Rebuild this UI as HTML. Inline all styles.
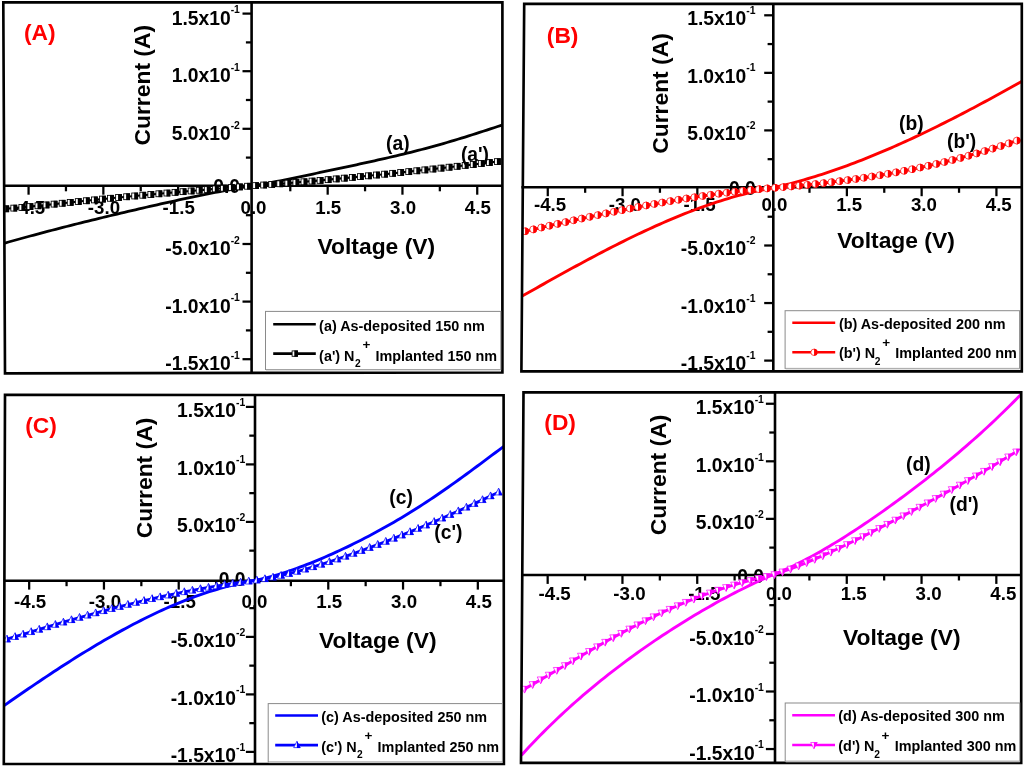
<!DOCTYPE html>
<html lang="en"><head><meta charset="utf-8"><title>I-V characteristics</title>
<style>html,body{margin:0;padding:0;background:#fff;}svg{display:block;font-family:"Liberation Sans", sans-serif;font-weight:bold;}</style></head><body>
<svg width="1024" height="767" viewBox="0 0 1024 767" role="img" aria-label="I-V characteristics of as-deposited and N2+ implanted films, four panels">
<rect x="0" y="0" width="1024" height="767" fill="#fff"/>
<defs><filter id="soft" x="0" y="0" width="1024" height="767" filterUnits="userSpaceOnUse" color-interpolation-filters="sRGB"><feGaussianBlur stdDeviation="0.6"/></filter></defs>
<g filter="url(#soft)">
<rect x="-5" y="-5" width="1034" height="777" fill="#fff"/>
<g id="panelA">
<text x="239.9" y="13.4" font-size="10.4" fill="#000" text-anchor="end">-1</text>
<text x="230.65" y="24.6" font-size="19.3" fill="#000" text-anchor="end">1.5x10</text>
<text x="239.9" y="71" font-size="10.4" fill="#000" text-anchor="end">-1</text>
<text x="230.65" y="82.2" font-size="19.3" fill="#000" text-anchor="end">1.0x10</text>
<text x="239.9" y="128.6" font-size="10.4" fill="#000" text-anchor="end">-2</text>
<text x="230.65" y="139.8" font-size="19.3" fill="#000" text-anchor="end">5.0x10</text>
<text x="240.1" y="193" font-size="19.3" fill="#000" text-anchor="end">0.0</text>
<text x="239.9" y="243.8" font-size="10.4" fill="#000" text-anchor="end">-2</text>
<text x="230.65" y="255" font-size="19.3" fill="#000" text-anchor="end">-5.0x10</text>
<text x="239.9" y="301.4" font-size="10.4" fill="#000" text-anchor="end">-1</text>
<text x="230.65" y="312.6" font-size="19.3" fill="#000" text-anchor="end">-1.0x10</text>
<text x="239.9" y="359" font-size="10.4" fill="#000" text-anchor="end">-1</text>
<text x="230.65" y="370.2" font-size="19.3" fill="#000" text-anchor="end">-1.5x10</text>
<text x="29.17" y="213.6" font-size="18.7" fill="#000" text-anchor="middle">-4.5</text>
<text x="103.95" y="213.6" font-size="18.7" fill="#000" text-anchor="middle">-3.0</text>
<text x="178.72" y="213.6" font-size="18.7" fill="#000" text-anchor="middle">-1.5</text>
<text x="253.5" y="213.6" font-size="18.7" fill="#000" text-anchor="middle">0.0</text>
<text x="328.28" y="213.6" font-size="18.7" fill="#000" text-anchor="middle">1.5</text>
<text x="403.05" y="213.6" font-size="18.7" fill="#000" text-anchor="middle">3.0</text>
<text x="477.83" y="213.6" font-size="18.7" fill="#000" text-anchor="middle">4.5</text>
<text x="376.3" y="254" font-size="22.85" fill="#000" text-anchor="middle">Voltage (V)</text>
<text transform="translate(150.4 85.2) rotate(-90)" font-size="22.85" text-anchor="middle">Current (A)</text>
<line x1="5" y1="185.8" x2="502.4" y2="185.8" stroke="#000" stroke-width="2.6" stroke-linecap="butt"/>
<line x1="251.6" y1="2.3" x2="251.6" y2="372.5" stroke="#000" stroke-width="2.6" stroke-linecap="butt"/>
<line x1="28.57" y1="185.8" x2="28.57" y2="194.7" stroke="#000" stroke-width="2.25" stroke-linecap="butt"/>
<line x1="65.96" y1="185.8" x2="65.96" y2="191.3" stroke="#000" stroke-width="2.25" stroke-linecap="butt"/>
<line x1="103.35" y1="185.8" x2="103.35" y2="194.7" stroke="#000" stroke-width="2.25" stroke-linecap="butt"/>
<line x1="140.74" y1="185.8" x2="140.74" y2="191.3" stroke="#000" stroke-width="2.25" stroke-linecap="butt"/>
<line x1="178.12" y1="185.8" x2="178.12" y2="194.7" stroke="#000" stroke-width="2.25" stroke-linecap="butt"/>
<line x1="215.51" y1="185.8" x2="215.51" y2="191.3" stroke="#000" stroke-width="2.25" stroke-linecap="butt"/>
<line x1="290.29" y1="185.8" x2="290.29" y2="191.3" stroke="#000" stroke-width="2.25" stroke-linecap="butt"/>
<line x1="327.68" y1="185.8" x2="327.68" y2="194.7" stroke="#000" stroke-width="2.25" stroke-linecap="butt"/>
<line x1="365.06" y1="185.8" x2="365.06" y2="191.3" stroke="#000" stroke-width="2.25" stroke-linecap="butt"/>
<line x1="402.45" y1="185.8" x2="402.45" y2="194.7" stroke="#000" stroke-width="2.25" stroke-linecap="butt"/>
<line x1="439.84" y1="185.8" x2="439.84" y2="191.3" stroke="#000" stroke-width="2.25" stroke-linecap="butt"/>
<line x1="477.23" y1="185.8" x2="477.23" y2="194.7" stroke="#000" stroke-width="2.25" stroke-linecap="butt"/>
<line x1="242.5" y1="359.2" x2="251.6" y2="359.2" stroke="#000" stroke-width="2.25" stroke-linecap="butt"/>
<line x1="245.9" y1="330.4" x2="251.6" y2="330.4" stroke="#000" stroke-width="2.25" stroke-linecap="butt"/>
<line x1="242.5" y1="301.6" x2="251.6" y2="301.6" stroke="#000" stroke-width="2.25" stroke-linecap="butt"/>
<line x1="245.9" y1="272.8" x2="251.6" y2="272.8" stroke="#000" stroke-width="2.25" stroke-linecap="butt"/>
<line x1="242.5" y1="244" x2="251.6" y2="244" stroke="#000" stroke-width="2.25" stroke-linecap="butt"/>
<line x1="245.9" y1="215.2" x2="251.6" y2="215.2" stroke="#000" stroke-width="2.25" stroke-linecap="butt"/>
<line x1="245.9" y1="157.6" x2="251.6" y2="157.6" stroke="#000" stroke-width="2.25" stroke-linecap="butt"/>
<line x1="242.5" y1="128.8" x2="251.6" y2="128.8" stroke="#000" stroke-width="2.25" stroke-linecap="butt"/>
<line x1="245.9" y1="100" x2="251.6" y2="100" stroke="#000" stroke-width="2.25" stroke-linecap="butt"/>
<line x1="242.5" y1="71.2" x2="251.6" y2="71.2" stroke="#000" stroke-width="2.25" stroke-linecap="butt"/>
<line x1="245.9" y1="42.4" x2="251.6" y2="42.4" stroke="#000" stroke-width="2.25" stroke-linecap="butt"/>
<line x1="242.5" y1="13.6" x2="251.6" y2="13.6" stroke="#000" stroke-width="2.25" stroke-linecap="butt"/>
<clipPath id="clipA"><polygon points="3.3,2.3 502.4,2.3 502.4,372.5 5,373.3"/></clipPath>
<g clip-path="url(#clipA)">
<path d="M1.3 244.08 L4.92 243.04 L8.55 242.02 L12.17 241 L15.79 239.99 L19.42 238.98 L23.04 237.99 L26.66 237 L30.28 236.01 L33.91 235.03 L37.53 234.06 L41.15 233.1 L44.78 232.14 L48.4 231.19 L52.02 230.24 L55.65 229.3 L59.27 228.36 L62.89 227.43 L66.51 226.51 L70.14 225.59 L73.76 224.67 L77.38 223.76 L81.01 222.85 L84.63 221.95 L88.25 221.06 L91.88 220.16 L95.5 219.28 L99.12 218.39 L102.74 217.51 L106.37 216.64 L109.99 215.76 L113.61 214.9 L117.24 214.03 L120.86 213.17 L124.48 212.32 L128.11 211.46 L131.73 210.61 L135.35 209.77 L138.97 208.93 L142.6 208.09 L146.22 207.26 L149.84 206.43 L153.47 205.61 L157.09 204.79 L160.71 203.97 L164.34 203.16 L167.96 202.36 L171.58 201.56 L175.21 200.76 L178.83 199.98 L182.45 199.19 L186.07 198.42 L189.7 197.65 L193.32 196.88 L196.94 196.13 L200.57 195.38 L204.19 194.64 L207.81 193.91 L211.44 193.19 L215.06 192.48 L218.68 191.78 L222.3 191.09 L225.93 190.41 L229.55 189.75 L233.17 189.09 L236.8 188.45 L240.42 187.83 L244.04 187.22 L247.67 186.63 L251.29 186.05 L254.91 185.47 L258.53 184.86 L262.16 184.22 L265.78 183.56 L269.4 182.89 L273.03 182.19 L276.65 181.49 L280.27 180.77 L283.9 180.04 L287.52 179.31 L291.14 178.57 L294.76 177.82 L298.39 177.06 L302.01 176.31 L305.63 175.55 L309.26 174.78 L312.88 174.02 L316.5 173.25 L320.13 172.49 L323.75 171.72 L327.37 170.95 L330.99 170.18 L334.62 169.41 L338.24 168.64 L341.86 167.87 L345.49 167.09 L349.11 166.32 L352.73 165.54 L356.36 164.76 L359.98 163.98 L363.6 163.19 L367.23 162.4 L370.85 161.6 L374.47 160.8 L378.09 159.99 L381.72 159.17 L385.34 158.34 L388.96 157.51 L392.59 156.67 L396.21 155.81 L399.83 154.95 L403.46 154.07 L407.08 153.19 L410.7 152.29 L414.32 151.37 L417.95 150.45 L421.57 149.51 L425.19 148.55 L428.82 147.58 L432.44 146.6 L436.06 145.59 L439.69 144.58 L443.31 143.55 L446.93 142.5 L450.55 141.44 L454.18 140.36 L457.8 139.27 L461.42 138.16 L465.05 137.04 L468.67 135.91 L472.29 134.76 L475.92 133.61 L479.54 132.44 L483.16 131.27 L486.78 130.09 L490.41 128.9 L494.03 127.71 L497.65 126.52 L501.28 125.33 L504.9 124.14" fill="none" stroke="#000000" stroke-width="2.8" stroke-linejoin="round"/>
<path d="M5.74 208.8 L13.8 208.11 L21.86 207.37 L29.92 206.59 L37.98 205.78 L46.04 204.96 L54.1 204.12 L62.16 203.27 L70.22 202.42 L78.28 201.58 L86.34 200.74 L94.4 199.91 L102.46 199.1 L110.52 198.3 L118.58 197.51 L126.64 196.73 L134.7 195.97 L142.76 195.23 L150.82 194.49 L158.88 193.77 L166.94 193.05 L175 192.35 L183.06 191.65 L191.12 190.96 L199.18 190.27 L207.24 189.59 L215.3 188.91 L223.36 188.24 L231.42 187.57 L239.48 186.9 L247.54 186.24 L255.6 185.61 L263.66 185.01 L271.72 184.4 L279.78 183.77 L287.84 183.13 L295.9 182.46 L303.96 181.78 L312.02 181.09 L320.08 180.38 L328.14 179.65 L336.2 178.91 L344.26 178.15 L352.32 177.39 L360.38 176.6 L368.44 175.81 L376.5 175 L384.56 174.18 L392.62 173.34 L400.68 172.5 L408.74 171.64 L416.8 170.78 L424.86 169.9 L432.92 169.01 L440.98 168.12 L449.04 167.21 L457.1 166.3 L465.16 165.38 L473.22 164.45 L481.28 163.51 L489.34 162.57 L497.4 161.62" fill="none" stroke="#000000" stroke-width="2.1" stroke-linejoin="round"/>
<rect x="2.79" y="205.85" width="5.9" height="5.9" fill="#fff" stroke="#000000" stroke-width="0.85"/>
<rect x="5.24" y="205.43" width="3.88" height="6.75" fill="#000000"/>
<rect x="10.85" y="205.16" width="5.9" height="5.9" fill="#fff" stroke="#000000" stroke-width="0.85"/>
<rect x="13.3" y="204.74" width="3.88" height="6.75" fill="#000000"/>
<rect x="18.91" y="204.42" width="5.9" height="5.9" fill="#fff" stroke="#000000" stroke-width="0.85"/>
<rect x="21.36" y="204" width="3.88" height="6.75" fill="#000000"/>
<rect x="26.97" y="203.64" width="5.9" height="5.9" fill="#fff" stroke="#000000" stroke-width="0.85"/>
<rect x="29.42" y="203.22" width="3.88" height="6.75" fill="#000000"/>
<rect x="35.03" y="202.83" width="5.9" height="5.9" fill="#fff" stroke="#000000" stroke-width="0.85"/>
<rect x="37.48" y="202.41" width="3.88" height="6.75" fill="#000000"/>
<rect x="43.09" y="202.01" width="5.9" height="5.9" fill="#fff" stroke="#000000" stroke-width="0.85"/>
<rect x="45.54" y="201.58" width="3.88" height="6.75" fill="#000000"/>
<rect x="51.15" y="201.17" width="5.9" height="5.9" fill="#fff" stroke="#000000" stroke-width="0.85"/>
<rect x="53.6" y="200.74" width="3.88" height="6.75" fill="#000000"/>
<rect x="59.21" y="200.32" width="5.9" height="5.9" fill="#fff" stroke="#000000" stroke-width="0.85"/>
<rect x="61.66" y="199.89" width="3.88" height="6.75" fill="#000000"/>
<rect x="67.27" y="199.47" width="5.9" height="5.9" fill="#fff" stroke="#000000" stroke-width="0.85"/>
<rect x="69.72" y="199.05" width="3.88" height="6.75" fill="#000000"/>
<rect x="75.33" y="198.63" width="5.9" height="5.9" fill="#fff" stroke="#000000" stroke-width="0.85"/>
<rect x="77.78" y="198.2" width="3.88" height="6.75" fill="#000000"/>
<rect x="83.39" y="197.79" width="5.9" height="5.9" fill="#fff" stroke="#000000" stroke-width="0.85"/>
<rect x="85.84" y="197.37" width="3.88" height="6.75" fill="#000000"/>
<rect x="91.45" y="196.96" width="5.9" height="5.9" fill="#fff" stroke="#000000" stroke-width="0.85"/>
<rect x="93.9" y="196.54" width="3.88" height="6.75" fill="#000000"/>
<rect x="99.51" y="196.15" width="5.9" height="5.9" fill="#fff" stroke="#000000" stroke-width="0.85"/>
<rect x="101.96" y="195.72" width="3.88" height="6.75" fill="#000000"/>
<rect x="107.57" y="195.35" width="5.9" height="5.9" fill="#fff" stroke="#000000" stroke-width="0.85"/>
<rect x="110.02" y="194.92" width="3.88" height="6.75" fill="#000000"/>
<rect x="115.63" y="194.56" width="5.9" height="5.9" fill="#fff" stroke="#000000" stroke-width="0.85"/>
<rect x="118.08" y="194.13" width="3.88" height="6.75" fill="#000000"/>
<rect x="123.69" y="193.78" width="5.9" height="5.9" fill="#fff" stroke="#000000" stroke-width="0.85"/>
<rect x="126.14" y="193.36" width="3.88" height="6.75" fill="#000000"/>
<rect x="131.75" y="193.02" width="5.9" height="5.9" fill="#fff" stroke="#000000" stroke-width="0.85"/>
<rect x="134.2" y="192.6" width="3.88" height="6.75" fill="#000000"/>
<rect x="139.81" y="192.28" width="5.9" height="5.9" fill="#fff" stroke="#000000" stroke-width="0.85"/>
<rect x="142.26" y="191.85" width="3.88" height="6.75" fill="#000000"/>
<rect x="147.87" y="191.54" width="5.9" height="5.9" fill="#fff" stroke="#000000" stroke-width="0.85"/>
<rect x="150.32" y="191.12" width="3.88" height="6.75" fill="#000000"/>
<rect x="155.93" y="190.82" width="5.9" height="5.9" fill="#fff" stroke="#000000" stroke-width="0.85"/>
<rect x="158.38" y="190.39" width="3.88" height="6.75" fill="#000000"/>
<rect x="163.99" y="190.1" width="5.9" height="5.9" fill="#fff" stroke="#000000" stroke-width="0.85"/>
<rect x="166.44" y="189.68" width="3.88" height="6.75" fill="#000000"/>
<rect x="172.05" y="189.4" width="5.9" height="5.9" fill="#fff" stroke="#000000" stroke-width="0.85"/>
<rect x="174.5" y="188.97" width="3.88" height="6.75" fill="#000000"/>
<rect x="180.11" y="188.7" width="5.9" height="5.9" fill="#fff" stroke="#000000" stroke-width="0.85"/>
<rect x="182.56" y="188.28" width="3.88" height="6.75" fill="#000000"/>
<rect x="188.17" y="188.01" width="5.9" height="5.9" fill="#fff" stroke="#000000" stroke-width="0.85"/>
<rect x="190.62" y="187.59" width="3.88" height="6.75" fill="#000000"/>
<rect x="196.23" y="187.32" width="5.9" height="5.9" fill="#fff" stroke="#000000" stroke-width="0.85"/>
<rect x="198.68" y="186.9" width="3.88" height="6.75" fill="#000000"/>
<rect x="204.29" y="186.64" width="5.9" height="5.9" fill="#fff" stroke="#000000" stroke-width="0.85"/>
<rect x="206.74" y="186.22" width="3.88" height="6.75" fill="#000000"/>
<rect x="212.35" y="185.96" width="5.9" height="5.9" fill="#fff" stroke="#000000" stroke-width="0.85"/>
<rect x="214.8" y="185.54" width="3.88" height="6.75" fill="#000000"/>
<rect x="220.41" y="185.29" width="5.9" height="5.9" fill="#fff" stroke="#000000" stroke-width="0.85"/>
<rect x="222.86" y="184.86" width="3.88" height="6.75" fill="#000000"/>
<rect x="228.47" y="184.62" width="5.9" height="5.9" fill="#fff" stroke="#000000" stroke-width="0.85"/>
<rect x="230.92" y="184.19" width="3.88" height="6.75" fill="#000000"/>
<rect x="236.53" y="183.95" width="5.9" height="5.9" fill="#fff" stroke="#000000" stroke-width="0.85"/>
<rect x="238.98" y="183.52" width="3.88" height="6.75" fill="#000000"/>
<rect x="244.59" y="183.29" width="5.9" height="5.9" fill="#fff" stroke="#000000" stroke-width="0.85"/>
<rect x="247.04" y="182.86" width="3.88" height="6.75" fill="#000000"/>
<rect x="252.65" y="182.66" width="5.9" height="5.9" fill="#fff" stroke="#000000" stroke-width="0.85"/>
<rect x="255.1" y="182.23" width="3.88" height="6.75" fill="#000000"/>
<rect x="260.71" y="182.06" width="5.9" height="5.9" fill="#fff" stroke="#000000" stroke-width="0.85"/>
<rect x="263.16" y="181.64" width="3.88" height="6.75" fill="#000000"/>
<rect x="268.77" y="181.45" width="5.9" height="5.9" fill="#fff" stroke="#000000" stroke-width="0.85"/>
<rect x="271.22" y="181.03" width="3.88" height="6.75" fill="#000000"/>
<rect x="276.83" y="180.82" width="5.9" height="5.9" fill="#fff" stroke="#000000" stroke-width="0.85"/>
<rect x="279.28" y="180.4" width="3.88" height="6.75" fill="#000000"/>
<rect x="284.89" y="180.18" width="5.9" height="5.9" fill="#fff" stroke="#000000" stroke-width="0.85"/>
<rect x="287.34" y="179.75" width="3.88" height="6.75" fill="#000000"/>
<rect x="292.95" y="179.51" width="5.9" height="5.9" fill="#fff" stroke="#000000" stroke-width="0.85"/>
<rect x="295.4" y="179.09" width="3.88" height="6.75" fill="#000000"/>
<rect x="301.01" y="178.83" width="5.9" height="5.9" fill="#fff" stroke="#000000" stroke-width="0.85"/>
<rect x="303.46" y="178.41" width="3.88" height="6.75" fill="#000000"/>
<rect x="309.07" y="178.14" width="5.9" height="5.9" fill="#fff" stroke="#000000" stroke-width="0.85"/>
<rect x="311.52" y="177.71" width="3.88" height="6.75" fill="#000000"/>
<rect x="317.13" y="177.43" width="5.9" height="5.9" fill="#fff" stroke="#000000" stroke-width="0.85"/>
<rect x="319.58" y="177" width="3.88" height="6.75" fill="#000000"/>
<rect x="325.19" y="176.7" width="5.9" height="5.9" fill="#fff" stroke="#000000" stroke-width="0.85"/>
<rect x="327.64" y="176.28" width="3.88" height="6.75" fill="#000000"/>
<rect x="333.25" y="175.96" width="5.9" height="5.9" fill="#fff" stroke="#000000" stroke-width="0.85"/>
<rect x="335.7" y="175.54" width="3.88" height="6.75" fill="#000000"/>
<rect x="341.31" y="175.2" width="5.9" height="5.9" fill="#fff" stroke="#000000" stroke-width="0.85"/>
<rect x="343.76" y="174.78" width="3.88" height="6.75" fill="#000000"/>
<rect x="349.37" y="174.44" width="5.9" height="5.9" fill="#fff" stroke="#000000" stroke-width="0.85"/>
<rect x="351.82" y="174.01" width="3.88" height="6.75" fill="#000000"/>
<rect x="357.43" y="173.65" width="5.9" height="5.9" fill="#fff" stroke="#000000" stroke-width="0.85"/>
<rect x="359.88" y="173.23" width="3.88" height="6.75" fill="#000000"/>
<rect x="365.49" y="172.86" width="5.9" height="5.9" fill="#fff" stroke="#000000" stroke-width="0.85"/>
<rect x="367.94" y="172.43" width="3.88" height="6.75" fill="#000000"/>
<rect x="373.55" y="172.05" width="5.9" height="5.9" fill="#fff" stroke="#000000" stroke-width="0.85"/>
<rect x="376" y="171.62" width="3.88" height="6.75" fill="#000000"/>
<rect x="381.61" y="171.23" width="5.9" height="5.9" fill="#fff" stroke="#000000" stroke-width="0.85"/>
<rect x="384.06" y="170.8" width="3.88" height="6.75" fill="#000000"/>
<rect x="389.67" y="170.39" width="5.9" height="5.9" fill="#fff" stroke="#000000" stroke-width="0.85"/>
<rect x="392.12" y="169.97" width="3.88" height="6.75" fill="#000000"/>
<rect x="397.73" y="169.55" width="5.9" height="5.9" fill="#fff" stroke="#000000" stroke-width="0.85"/>
<rect x="400.18" y="169.12" width="3.88" height="6.75" fill="#000000"/>
<rect x="405.79" y="168.69" width="5.9" height="5.9" fill="#fff" stroke="#000000" stroke-width="0.85"/>
<rect x="408.24" y="168.27" width="3.88" height="6.75" fill="#000000"/>
<rect x="413.85" y="167.83" width="5.9" height="5.9" fill="#fff" stroke="#000000" stroke-width="0.85"/>
<rect x="416.3" y="167.4" width="3.88" height="6.75" fill="#000000"/>
<rect x="421.91" y="166.95" width="5.9" height="5.9" fill="#fff" stroke="#000000" stroke-width="0.85"/>
<rect x="424.36" y="166.52" width="3.88" height="6.75" fill="#000000"/>
<rect x="429.97" y="166.06" width="5.9" height="5.9" fill="#fff" stroke="#000000" stroke-width="0.85"/>
<rect x="432.42" y="165.64" width="3.88" height="6.75" fill="#000000"/>
<rect x="438.03" y="165.17" width="5.9" height="5.9" fill="#fff" stroke="#000000" stroke-width="0.85"/>
<rect x="440.48" y="164.74" width="3.88" height="6.75" fill="#000000"/>
<rect x="446.09" y="164.26" width="5.9" height="5.9" fill="#fff" stroke="#000000" stroke-width="0.85"/>
<rect x="448.54" y="163.84" width="3.88" height="6.75" fill="#000000"/>
<rect x="454.15" y="163.35" width="5.9" height="5.9" fill="#fff" stroke="#000000" stroke-width="0.85"/>
<rect x="456.6" y="162.93" width="3.88" height="6.75" fill="#000000"/>
<rect x="462.21" y="162.43" width="5.9" height="5.9" fill="#fff" stroke="#000000" stroke-width="0.85"/>
<rect x="464.66" y="162" width="3.88" height="6.75" fill="#000000"/>
<rect x="470.27" y="161.5" width="5.9" height="5.9" fill="#fff" stroke="#000000" stroke-width="0.85"/>
<rect x="472.72" y="161.07" width="3.88" height="6.75" fill="#000000"/>
<rect x="478.33" y="160.56" width="5.9" height="5.9" fill="#fff" stroke="#000000" stroke-width="0.85"/>
<rect x="480.78" y="160.14" width="3.88" height="6.75" fill="#000000"/>
<rect x="486.39" y="159.62" width="5.9" height="5.9" fill="#fff" stroke="#000000" stroke-width="0.85"/>
<rect x="488.84" y="159.2" width="3.88" height="6.75" fill="#000000"/>
<rect x="494.45" y="158.67" width="5.9" height="5.9" fill="#fff" stroke="#000000" stroke-width="0.85"/>
<rect x="496.9" y="158.25" width="3.88" height="6.75" fill="#000000"/>
</g>
<text x="386" y="150" font-size="19.3" fill="#000" text-anchor="start">(a)</text>
<text x="460.9" y="161.3" font-size="19.3" fill="#000" text-anchor="start">(a')</text>
<polygon points="3.3,2.3 502.4,2.3 502.4,372.5 5,373.3" fill="none" stroke="#000" stroke-width="2.65" stroke-linejoin="miter"/>
<text x="24" y="40.3" font-size="22.8" fill="#ff0000" text-anchor="start">(A)</text>
<rect x="265.5" y="311.4" width="235.3" height="58.1" fill="#fff" stroke="#8a8a8a" stroke-width="1"/>
<line x1="266" y1="370.1" x2="500.8" y2="370.1" stroke="#c8c8c8" stroke-width="1" stroke-linecap="butt"/>
<line x1="273.2" y1="324.3" x2="315.8" y2="324.3" stroke="#000000" stroke-width="2.6" stroke-linecap="butt"/>
<line x1="273.2" y1="353.6" x2="315.8" y2="353.6" stroke="#000000" stroke-width="2.6" stroke-linecap="butt"/>
<rect x="292.1" y="350.9" width="5.4" height="5.4" fill="#fff" stroke="#000000" stroke-width="0.85"/>
<rect x="294.3" y="350.48" width="3.62" height="6.25" fill="#000000"/>
<text x="319.1" y="330.5" font-size="14.4" fill="#000" text-anchor="start">(a) As-deposited 150 nm</text>
<text x="319.1" y="360.5" font-size="14.4" fill="#000" text-anchor="start">(a') N</text>
<text x="355" y="367.1" font-size="10.2" fill="#000" text-anchor="start">2</text>
<text x="362.4" y="349.3" font-size="13.5" fill="#000" text-anchor="start">+</text>
<text x="375.5" y="360.5" font-size="14.4" fill="#000" text-anchor="start">Implanted 150 nm</text>
</g>
<g id="panelB">
<text x="755.5" y="13.8" font-size="10.4" fill="#000" text-anchor="end">-1</text>
<text x="746.25" y="25" font-size="19.3" fill="#000" text-anchor="end">1.5x10</text>
<text x="755.5" y="71.35" font-size="10.4" fill="#000" text-anchor="end">-1</text>
<text x="746.25" y="82.55" font-size="19.3" fill="#000" text-anchor="end">1.0x10</text>
<text x="755.5" y="128.9" font-size="10.4" fill="#000" text-anchor="end">-2</text>
<text x="746.25" y="140.1" font-size="19.3" fill="#000" text-anchor="end">5.0x10</text>
<text x="755.7" y="194.55" font-size="19.3" fill="#000" text-anchor="end">0.0</text>
<text x="755.5" y="244" font-size="10.4" fill="#000" text-anchor="end">-2</text>
<text x="746.25" y="255.2" font-size="19.3" fill="#000" text-anchor="end">-5.0x10</text>
<text x="755.5" y="301.55" font-size="10.4" fill="#000" text-anchor="end">-1</text>
<text x="746.25" y="312.75" font-size="19.3" fill="#000" text-anchor="end">-1.0x10</text>
<text x="755.5" y="359.1" font-size="10.4" fill="#000" text-anchor="end">-1</text>
<text x="746.25" y="370.3" font-size="19.3" fill="#000" text-anchor="end">-1.5x10</text>
<text x="550.07" y="211.4" font-size="18.7" fill="#000" text-anchor="middle">-4.5</text>
<text x="624.85" y="211.4" font-size="18.7" fill="#000" text-anchor="middle">-3.0</text>
<text x="699.62" y="211.4" font-size="18.7" fill="#000" text-anchor="middle">-1.5</text>
<text x="774.4" y="211.4" font-size="18.7" fill="#000" text-anchor="middle">0.0</text>
<text x="849.17" y="211.4" font-size="18.7" fill="#000" text-anchor="middle">1.5</text>
<text x="923.95" y="211.4" font-size="18.7" fill="#000" text-anchor="middle">3.0</text>
<text x="998.73" y="211.4" font-size="18.7" fill="#000" text-anchor="middle">4.5</text>
<text x="896" y="248" font-size="22.85" fill="#000" text-anchor="middle">Voltage (V)</text>
<text transform="translate(668.1 93.5) rotate(-90)" font-size="22.85" text-anchor="middle">Current (A)</text>
<line x1="521.4" y1="187.3" x2="1021.8" y2="187.3" stroke="#000" stroke-width="2.6" stroke-linecap="butt"/>
<line x1="773.3" y1="3.8" x2="773.3" y2="371.4" stroke="#000" stroke-width="2.6" stroke-linecap="butt"/>
<line x1="547.77" y1="187.3" x2="547.77" y2="196.2" stroke="#000" stroke-width="2.25" stroke-linecap="butt"/>
<line x1="585.16" y1="187.3" x2="585.16" y2="192.8" stroke="#000" stroke-width="2.25" stroke-linecap="butt"/>
<line x1="622.55" y1="187.3" x2="622.55" y2="196.2" stroke="#000" stroke-width="2.25" stroke-linecap="butt"/>
<line x1="659.94" y1="187.3" x2="659.94" y2="192.8" stroke="#000" stroke-width="2.25" stroke-linecap="butt"/>
<line x1="697.33" y1="187.3" x2="697.33" y2="196.2" stroke="#000" stroke-width="2.25" stroke-linecap="butt"/>
<line x1="734.71" y1="187.3" x2="734.71" y2="192.8" stroke="#000" stroke-width="2.25" stroke-linecap="butt"/>
<line x1="809.49" y1="187.3" x2="809.49" y2="192.8" stroke="#000" stroke-width="2.25" stroke-linecap="butt"/>
<line x1="846.88" y1="187.3" x2="846.88" y2="196.2" stroke="#000" stroke-width="2.25" stroke-linecap="butt"/>
<line x1="884.26" y1="187.3" x2="884.26" y2="192.8" stroke="#000" stroke-width="2.25" stroke-linecap="butt"/>
<line x1="921.65" y1="187.3" x2="921.65" y2="196.2" stroke="#000" stroke-width="2.25" stroke-linecap="butt"/>
<line x1="959.04" y1="187.3" x2="959.04" y2="192.8" stroke="#000" stroke-width="2.25" stroke-linecap="butt"/>
<line x1="996.43" y1="187.3" x2="996.43" y2="196.2" stroke="#000" stroke-width="2.25" stroke-linecap="butt"/>
<line x1="764.2" y1="360.6" x2="773.3" y2="360.6" stroke="#000" stroke-width="2.25" stroke-linecap="butt"/>
<line x1="767.6" y1="331.82" x2="773.3" y2="331.82" stroke="#000" stroke-width="2.25" stroke-linecap="butt"/>
<line x1="764.2" y1="303.05" x2="773.3" y2="303.05" stroke="#000" stroke-width="2.25" stroke-linecap="butt"/>
<line x1="767.6" y1="274.27" x2="773.3" y2="274.27" stroke="#000" stroke-width="2.25" stroke-linecap="butt"/>
<line x1="764.2" y1="245.5" x2="773.3" y2="245.5" stroke="#000" stroke-width="2.25" stroke-linecap="butt"/>
<line x1="767.6" y1="216.72" x2="773.3" y2="216.72" stroke="#000" stroke-width="2.25" stroke-linecap="butt"/>
<line x1="767.6" y1="159.17" x2="773.3" y2="159.17" stroke="#000" stroke-width="2.25" stroke-linecap="butt"/>
<line x1="764.2" y1="130.4" x2="773.3" y2="130.4" stroke="#000" stroke-width="2.25" stroke-linecap="butt"/>
<line x1="767.6" y1="101.62" x2="773.3" y2="101.62" stroke="#000" stroke-width="2.25" stroke-linecap="butt"/>
<line x1="764.2" y1="72.85" x2="773.3" y2="72.85" stroke="#000" stroke-width="2.25" stroke-linecap="butt"/>
<line x1="767.6" y1="44.07" x2="773.3" y2="44.07" stroke="#000" stroke-width="2.25" stroke-linecap="butt"/>
<line x1="764.2" y1="15.3" x2="773.3" y2="15.3" stroke="#000" stroke-width="2.25" stroke-linecap="butt"/>
<clipPath id="clipB"><polygon points="524.2,3.8 1021.8,3.8 1021.8,371.4 521.4,371.4"/></clipPath>
<g clip-path="url(#clipB)">
<path d="M522.2 296.06 L525.81 294.02 L529.42 291.98 L533.04 289.95 L536.65 287.91 L540.26 285.88 L543.87 283.86 L547.49 281.83 L551.1 279.82 L554.71 277.81 L558.32 275.8 L561.93 273.8 L565.55 271.81 L569.16 269.82 L572.77 267.85 L576.38 265.88 L580 263.92 L583.61 261.97 L587.22 260.03 L590.83 258.11 L594.44 256.19 L598.06 254.29 L601.67 252.4 L605.28 250.52 L608.89 248.66 L612.51 246.81 L616.12 244.97 L619.73 243.15 L623.34 241.35 L626.95 239.56 L630.57 237.79 L634.18 236.04 L637.79 234.31 L641.4 232.59 L645.02 230.9 L648.63 229.22 L652.24 227.57 L655.85 225.93 L659.46 224.32 L663.08 222.73 L666.69 221.16 L670.3 219.62 L673.91 218.1 L677.53 216.6 L681.14 215.13 L684.75 213.69 L688.36 212.27 L691.97 210.87 L695.59 209.51 L699.2 208.17 L702.81 206.86 L706.42 205.58 L710.04 204.33 L713.65 203.11 L717.26 201.92 L720.87 200.76 L724.48 199.63 L728.1 198.54 L731.71 197.48 L735.32 196.45 L738.93 195.45 L742.55 194.49 L746.16 193.57 L749.77 192.68 L753.38 191.82 L756.99 191.01 L760.61 190.23 L764.22 189.48 L767.83 188.78 L771.44 188.12 L775.06 187.33 L778.67 186.48 L782.28 185.61 L785.89 184.71 L789.51 183.78 L793.12 182.83 L796.73 181.85 L800.34 180.84 L803.95 179.81 L807.57 178.75 L811.18 177.67 L814.79 176.56 L818.4 175.43 L822.02 174.27 L825.63 173.09 L829.24 171.89 L832.85 170.66 L836.46 169.41 L840.08 168.13 L843.69 166.84 L847.3 165.52 L850.91 164.18 L854.53 162.82 L858.14 161.43 L861.75 160.03 L865.36 158.6 L868.97 157.16 L872.59 155.69 L876.2 154.21 L879.81 152.7 L883.42 151.18 L887.04 149.64 L890.65 148.07 L894.26 146.49 L897.87 144.89 L901.48 143.28 L905.1 141.64 L908.71 139.99 L912.32 138.33 L915.93 136.64 L919.55 134.94 L923.16 133.22 L926.77 131.49 L930.38 129.74 L933.99 127.98 L937.61 126.2 L941.22 124.41 L944.83 122.6 L948.44 120.78 L952.06 118.95 L955.67 117.1 L959.28 115.24 L962.89 113.36 L966.5 111.48 L970.12 109.58 L973.73 107.67 L977.34 105.75 L980.95 103.81 L984.57 101.87 L988.18 99.91 L991.79 97.95 L995.4 95.97 L999.01 93.99 L1002.63 91.99 L1006.24 89.99 L1009.85 87.98 L1013.46 85.95 L1017.08 83.92 L1020.69 81.89 L1024.3 79.84" fill="none" stroke="#ff0000" stroke-width="2.9" stroke-linejoin="round"/>
<path d="M525.14 231.22 L533.2 229.38 L541.26 227.54 L549.32 225.71 L557.38 223.9 L565.44 222.1 L573.5 220.32 L581.56 218.56 L589.62 216.83 L597.68 215.11 L605.74 213.42 L613.8 211.77 L621.86 210.14 L629.92 208.54 L637.98 206.98 L646.04 205.45 L654.1 203.97 L662.16 202.52 L670.22 201.12 L678.28 199.77 L686.34 198.46 L694.4 197.2 L702.46 195.99 L710.52 194.83 L718.58 193.73 L726.64 192.69 L734.7 191.71 L742.76 190.79 L750.82 189.93 L758.88 189.15 L766.94 188.42 L775 187.77 L783.06 187.11 L791.12 186.41 L799.18 185.66 L807.24 184.86 L815.3 184.01 L823.36 183.11 L831.42 182.16 L839.48 181.15 L847.54 180.09 L855.6 178.96 L863.66 177.77 L871.72 176.52 L879.78 175.2 L887.84 173.81 L895.9 172.35 L903.96 170.82 L912.02 169.21 L920.08 167.53 L928.14 165.77 L936.2 163.93 L944.26 162 L952.32 159.99 L960.38 157.9 L968.44 155.71 L976.5 153.44 L984.56 151.07 L992.62 148.6 L1000.68 146.04 L1008.74 143.38 L1016.8 140.62" fill="none" stroke="#ff0000" stroke-width="2.9" stroke-linejoin="round"/>
<circle cx="525.14" cy="231.22" r="3.45" fill="#fff" stroke="#ff0000" stroke-width="0.7"/>
<path d="M525.14 227.42 A3.8 3.8 0 0 1 525.14 235.02 Z" fill="#ff0000"/>
<circle cx="533.2" cy="229.38" r="3.45" fill="#fff" stroke="#ff0000" stroke-width="0.7"/>
<path d="M533.2 225.58 A3.8 3.8 0 0 1 533.2 233.18 Z" fill="#ff0000"/>
<circle cx="541.26" cy="227.54" r="3.45" fill="#fff" stroke="#ff0000" stroke-width="0.7"/>
<path d="M541.26 223.74 A3.8 3.8 0 0 1 541.26 231.34 Z" fill="#ff0000"/>
<circle cx="549.32" cy="225.71" r="3.45" fill="#fff" stroke="#ff0000" stroke-width="0.7"/>
<path d="M549.32 221.91 A3.8 3.8 0 0 1 549.32 229.51 Z" fill="#ff0000"/>
<circle cx="557.38" cy="223.9" r="3.45" fill="#fff" stroke="#ff0000" stroke-width="0.7"/>
<path d="M557.38 220.1 A3.8 3.8 0 0 1 557.38 227.7 Z" fill="#ff0000"/>
<circle cx="565.44" cy="222.1" r="3.45" fill="#fff" stroke="#ff0000" stroke-width="0.7"/>
<path d="M565.44 218.3 A3.8 3.8 0 0 1 565.44 225.9 Z" fill="#ff0000"/>
<circle cx="573.5" cy="220.32" r="3.45" fill="#fff" stroke="#ff0000" stroke-width="0.7"/>
<path d="M573.5 216.52 A3.8 3.8 0 0 1 573.5 224.12 Z" fill="#ff0000"/>
<circle cx="581.56" cy="218.56" r="3.45" fill="#fff" stroke="#ff0000" stroke-width="0.7"/>
<path d="M581.56 214.76 A3.8 3.8 0 0 1 581.56 222.36 Z" fill="#ff0000"/>
<circle cx="589.62" cy="216.83" r="3.45" fill="#fff" stroke="#ff0000" stroke-width="0.7"/>
<path d="M589.62 213.03 A3.8 3.8 0 0 1 589.62 220.63 Z" fill="#ff0000"/>
<circle cx="597.68" cy="215.11" r="3.45" fill="#fff" stroke="#ff0000" stroke-width="0.7"/>
<path d="M597.68 211.31 A3.8 3.8 0 0 1 597.68 218.91 Z" fill="#ff0000"/>
<circle cx="605.74" cy="213.42" r="3.45" fill="#fff" stroke="#ff0000" stroke-width="0.7"/>
<path d="M605.74 209.62 A3.8 3.8 0 0 1 605.74 217.22 Z" fill="#ff0000"/>
<circle cx="613.8" cy="211.77" r="3.45" fill="#fff" stroke="#ff0000" stroke-width="0.7"/>
<path d="M613.8 207.97 A3.8 3.8 0 0 1 613.8 215.57 Z" fill="#ff0000"/>
<circle cx="621.86" cy="210.14" r="3.45" fill="#fff" stroke="#ff0000" stroke-width="0.7"/>
<path d="M621.86 206.34 A3.8 3.8 0 0 1 621.86 213.94 Z" fill="#ff0000"/>
<circle cx="629.92" cy="208.54" r="3.45" fill="#fff" stroke="#ff0000" stroke-width="0.7"/>
<path d="M629.92 204.74 A3.8 3.8 0 0 1 629.92 212.34 Z" fill="#ff0000"/>
<circle cx="637.98" cy="206.98" r="3.45" fill="#fff" stroke="#ff0000" stroke-width="0.7"/>
<path d="M637.98 203.18 A3.8 3.8 0 0 1 637.98 210.78 Z" fill="#ff0000"/>
<circle cx="646.04" cy="205.45" r="3.45" fill="#fff" stroke="#ff0000" stroke-width="0.7"/>
<path d="M646.04 201.65 A3.8 3.8 0 0 1 646.04 209.25 Z" fill="#ff0000"/>
<circle cx="654.1" cy="203.97" r="3.45" fill="#fff" stroke="#ff0000" stroke-width="0.7"/>
<path d="M654.1 200.17 A3.8 3.8 0 0 1 654.1 207.77 Z" fill="#ff0000"/>
<circle cx="662.16" cy="202.52" r="3.45" fill="#fff" stroke="#ff0000" stroke-width="0.7"/>
<path d="M662.16 198.72 A3.8 3.8 0 0 1 662.16 206.32 Z" fill="#ff0000"/>
<circle cx="670.22" cy="201.12" r="3.45" fill="#fff" stroke="#ff0000" stroke-width="0.7"/>
<path d="M670.22 197.32 A3.8 3.8 0 0 1 670.22 204.92 Z" fill="#ff0000"/>
<circle cx="678.28" cy="199.77" r="3.45" fill="#fff" stroke="#ff0000" stroke-width="0.7"/>
<path d="M678.28 195.97 A3.8 3.8 0 0 1 678.28 203.57 Z" fill="#ff0000"/>
<circle cx="686.34" cy="198.46" r="3.45" fill="#fff" stroke="#ff0000" stroke-width="0.7"/>
<path d="M686.34 194.66 A3.8 3.8 0 0 1 686.34 202.26 Z" fill="#ff0000"/>
<circle cx="694.4" cy="197.2" r="3.45" fill="#fff" stroke="#ff0000" stroke-width="0.7"/>
<path d="M694.4 193.4 A3.8 3.8 0 0 1 694.4 201 Z" fill="#ff0000"/>
<circle cx="702.46" cy="195.99" r="3.45" fill="#fff" stroke="#ff0000" stroke-width="0.7"/>
<path d="M702.46 192.19 A3.8 3.8 0 0 1 702.46 199.79 Z" fill="#ff0000"/>
<circle cx="710.52" cy="194.83" r="3.45" fill="#fff" stroke="#ff0000" stroke-width="0.7"/>
<path d="M710.52 191.03 A3.8 3.8 0 0 1 710.52 198.63 Z" fill="#ff0000"/>
<circle cx="718.58" cy="193.73" r="3.45" fill="#fff" stroke="#ff0000" stroke-width="0.7"/>
<path d="M718.58 189.93 A3.8 3.8 0 0 1 718.58 197.53 Z" fill="#ff0000"/>
<circle cx="726.64" cy="192.69" r="3.45" fill="#fff" stroke="#ff0000" stroke-width="0.7"/>
<path d="M726.64 188.89 A3.8 3.8 0 0 1 726.64 196.49 Z" fill="#ff0000"/>
<circle cx="734.7" cy="191.71" r="3.45" fill="#fff" stroke="#ff0000" stroke-width="0.7"/>
<path d="M734.7 187.91 A3.8 3.8 0 0 1 734.7 195.51 Z" fill="#ff0000"/>
<circle cx="742.76" cy="190.79" r="3.45" fill="#fff" stroke="#ff0000" stroke-width="0.7"/>
<path d="M742.76 186.99 A3.8 3.8 0 0 1 742.76 194.59 Z" fill="#ff0000"/>
<circle cx="750.82" cy="189.93" r="3.45" fill="#fff" stroke="#ff0000" stroke-width="0.7"/>
<path d="M750.82 186.13 A3.8 3.8 0 0 1 750.82 193.73 Z" fill="#ff0000"/>
<circle cx="758.88" cy="189.15" r="3.45" fill="#fff" stroke="#ff0000" stroke-width="0.7"/>
<path d="M758.88 185.35 A3.8 3.8 0 0 1 758.88 192.95 Z" fill="#ff0000"/>
<circle cx="766.94" cy="188.42" r="3.45" fill="#fff" stroke="#ff0000" stroke-width="0.7"/>
<path d="M766.94 184.62 A3.8 3.8 0 0 1 766.94 192.22 Z" fill="#ff0000"/>
<circle cx="775" cy="187.77" r="3.45" fill="#fff" stroke="#ff0000" stroke-width="0.7"/>
<path d="M775 183.97 A3.8 3.8 0 0 1 775 191.57 Z" fill="#ff0000"/>
<circle cx="783.06" cy="187.11" r="3.45" fill="#fff" stroke="#ff0000" stroke-width="0.7"/>
<path d="M783.06 183.31 A3.8 3.8 0 0 1 783.06 190.91 Z" fill="#ff0000"/>
<circle cx="791.12" cy="186.41" r="3.45" fill="#fff" stroke="#ff0000" stroke-width="0.7"/>
<path d="M791.12 182.61 A3.8 3.8 0 0 1 791.12 190.21 Z" fill="#ff0000"/>
<circle cx="799.18" cy="185.66" r="3.45" fill="#fff" stroke="#ff0000" stroke-width="0.7"/>
<path d="M799.18 181.86 A3.8 3.8 0 0 1 799.18 189.46 Z" fill="#ff0000"/>
<circle cx="807.24" cy="184.86" r="3.45" fill="#fff" stroke="#ff0000" stroke-width="0.7"/>
<path d="M807.24 181.06 A3.8 3.8 0 0 1 807.24 188.66 Z" fill="#ff0000"/>
<circle cx="815.3" cy="184.01" r="3.45" fill="#fff" stroke="#ff0000" stroke-width="0.7"/>
<path d="M815.3 180.21 A3.8 3.8 0 0 1 815.3 187.81 Z" fill="#ff0000"/>
<circle cx="823.36" cy="183.11" r="3.45" fill="#fff" stroke="#ff0000" stroke-width="0.7"/>
<path d="M823.36 179.31 A3.8 3.8 0 0 1 823.36 186.91 Z" fill="#ff0000"/>
<circle cx="831.42" cy="182.16" r="3.45" fill="#fff" stroke="#ff0000" stroke-width="0.7"/>
<path d="M831.42 178.36 A3.8 3.8 0 0 1 831.42 185.96 Z" fill="#ff0000"/>
<circle cx="839.48" cy="181.15" r="3.45" fill="#fff" stroke="#ff0000" stroke-width="0.7"/>
<path d="M839.48 177.35 A3.8 3.8 0 0 1 839.48 184.95 Z" fill="#ff0000"/>
<circle cx="847.54" cy="180.09" r="3.45" fill="#fff" stroke="#ff0000" stroke-width="0.7"/>
<path d="M847.54 176.29 A3.8 3.8 0 0 1 847.54 183.89 Z" fill="#ff0000"/>
<circle cx="855.6" cy="178.96" r="3.45" fill="#fff" stroke="#ff0000" stroke-width="0.7"/>
<path d="M855.6 175.16 A3.8 3.8 0 0 1 855.6 182.76 Z" fill="#ff0000"/>
<circle cx="863.66" cy="177.77" r="3.45" fill="#fff" stroke="#ff0000" stroke-width="0.7"/>
<path d="M863.66 173.97 A3.8 3.8 0 0 1 863.66 181.57 Z" fill="#ff0000"/>
<circle cx="871.72" cy="176.52" r="3.45" fill="#fff" stroke="#ff0000" stroke-width="0.7"/>
<path d="M871.72 172.72 A3.8 3.8 0 0 1 871.72 180.32 Z" fill="#ff0000"/>
<circle cx="879.78" cy="175.2" r="3.45" fill="#fff" stroke="#ff0000" stroke-width="0.7"/>
<path d="M879.78 171.4 A3.8 3.8 0 0 1 879.78 179 Z" fill="#ff0000"/>
<circle cx="887.84" cy="173.81" r="3.45" fill="#fff" stroke="#ff0000" stroke-width="0.7"/>
<path d="M887.84 170.01 A3.8 3.8 0 0 1 887.84 177.61 Z" fill="#ff0000"/>
<circle cx="895.9" cy="172.35" r="3.45" fill="#fff" stroke="#ff0000" stroke-width="0.7"/>
<path d="M895.9 168.55 A3.8 3.8 0 0 1 895.9 176.15 Z" fill="#ff0000"/>
<circle cx="903.96" cy="170.82" r="3.45" fill="#fff" stroke="#ff0000" stroke-width="0.7"/>
<path d="M903.96 167.02 A3.8 3.8 0 0 1 903.96 174.62 Z" fill="#ff0000"/>
<circle cx="912.02" cy="169.21" r="3.45" fill="#fff" stroke="#ff0000" stroke-width="0.7"/>
<path d="M912.02 165.41 A3.8 3.8 0 0 1 912.02 173.01 Z" fill="#ff0000"/>
<circle cx="920.08" cy="167.53" r="3.45" fill="#fff" stroke="#ff0000" stroke-width="0.7"/>
<path d="M920.08 163.73 A3.8 3.8 0 0 1 920.08 171.33 Z" fill="#ff0000"/>
<circle cx="928.14" cy="165.77" r="3.45" fill="#fff" stroke="#ff0000" stroke-width="0.7"/>
<path d="M928.14 161.97 A3.8 3.8 0 0 1 928.14 169.57 Z" fill="#ff0000"/>
<circle cx="936.2" cy="163.93" r="3.45" fill="#fff" stroke="#ff0000" stroke-width="0.7"/>
<path d="M936.2 160.13 A3.8 3.8 0 0 1 936.2 167.73 Z" fill="#ff0000"/>
<circle cx="944.26" cy="162" r="3.45" fill="#fff" stroke="#ff0000" stroke-width="0.7"/>
<path d="M944.26 158.2 A3.8 3.8 0 0 1 944.26 165.8 Z" fill="#ff0000"/>
<circle cx="952.32" cy="159.99" r="3.45" fill="#fff" stroke="#ff0000" stroke-width="0.7"/>
<path d="M952.32 156.19 A3.8 3.8 0 0 1 952.32 163.79 Z" fill="#ff0000"/>
<circle cx="960.38" cy="157.9" r="3.45" fill="#fff" stroke="#ff0000" stroke-width="0.7"/>
<path d="M960.38 154.1 A3.8 3.8 0 0 1 960.38 161.7 Z" fill="#ff0000"/>
<circle cx="968.44" cy="155.71" r="3.45" fill="#fff" stroke="#ff0000" stroke-width="0.7"/>
<path d="M968.44 151.91 A3.8 3.8 0 0 1 968.44 159.51 Z" fill="#ff0000"/>
<circle cx="976.5" cy="153.44" r="3.45" fill="#fff" stroke="#ff0000" stroke-width="0.7"/>
<path d="M976.5 149.64 A3.8 3.8 0 0 1 976.5 157.24 Z" fill="#ff0000"/>
<circle cx="984.56" cy="151.07" r="3.45" fill="#fff" stroke="#ff0000" stroke-width="0.7"/>
<path d="M984.56 147.27 A3.8 3.8 0 0 1 984.56 154.87 Z" fill="#ff0000"/>
<circle cx="992.62" cy="148.6" r="3.45" fill="#fff" stroke="#ff0000" stroke-width="0.7"/>
<path d="M992.62 144.8 A3.8 3.8 0 0 1 992.62 152.4 Z" fill="#ff0000"/>
<circle cx="1000.68" cy="146.04" r="3.45" fill="#fff" stroke="#ff0000" stroke-width="0.7"/>
<path d="M1000.68 142.24 A3.8 3.8 0 0 1 1000.68 149.84 Z" fill="#ff0000"/>
<circle cx="1008.74" cy="143.38" r="3.45" fill="#fff" stroke="#ff0000" stroke-width="0.7"/>
<path d="M1008.74 139.58 A3.8 3.8 0 0 1 1008.74 147.18 Z" fill="#ff0000"/>
<circle cx="1016.8" cy="140.62" r="3.45" fill="#fff" stroke="#ff0000" stroke-width="0.7"/>
<path d="M1016.8 136.82 A3.8 3.8 0 0 1 1016.8 144.42 Z" fill="#ff0000"/>
</g>
<text x="899" y="129.5" font-size="19.3" fill="#000" text-anchor="start">(b)</text>
<text x="947" y="148" font-size="19.3" fill="#000" text-anchor="start">(b')</text>
<polygon points="524.2,3.8 1021.8,3.8 1021.8,371.4 521.4,371.4" fill="none" stroke="#000" stroke-width="2.65" stroke-linejoin="miter"/>
<text x="546.8" y="43" font-size="22.8" fill="#ff0000" text-anchor="start">(B)</text>
<rect x="785.1" y="310.7" width="234.5" height="57.7" fill="#fff" stroke="#8a8a8a" stroke-width="1"/>
<line x1="785.6" y1="369" x2="1019.6" y2="369" stroke="#c8c8c8" stroke-width="1" stroke-linecap="butt"/>
<line x1="792.3" y1="322.8" x2="835.2" y2="322.8" stroke="#ff0000" stroke-width="2.6" stroke-linecap="butt"/>
<line x1="792.3" y1="352.3" x2="835.2" y2="352.3" stroke="#ff0000" stroke-width="2.6" stroke-linecap="butt"/>
<circle cx="814.05" cy="352.3" r="3.2" fill="#fff" stroke="#ff0000" stroke-width="0.7"/>
<path d="M814.05 348.75 A3.55 3.55 0 0 1 814.05 355.85 Z" fill="#ff0000"/>
<text x="838.9" y="328.8" font-size="14.4" fill="#000" text-anchor="start">(b) As-deposited 200 nm</text>
<text x="838.9" y="358.4" font-size="14.4" fill="#000" text-anchor="start">(b') N</text>
<text x="874.8" y="365" font-size="10.2" fill="#000" text-anchor="start">2</text>
<text x="882.2" y="347.2" font-size="13.5" fill="#000" text-anchor="start">+</text>
<text x="895.3" y="358.4" font-size="14.4" fill="#000" text-anchor="start">Implanted 200 nm</text>
</g>
<g id="panelC">
<text x="245.3" y="405.8" font-size="10.4" fill="#000" text-anchor="end">-1</text>
<text x="236.05" y="417" font-size="19.3" fill="#000" text-anchor="end">1.5x10</text>
<text x="245.3" y="463.3" font-size="10.4" fill="#000" text-anchor="end">-1</text>
<text x="236.05" y="474.5" font-size="19.3" fill="#000" text-anchor="end">1.0x10</text>
<text x="245.3" y="520.8" font-size="10.4" fill="#000" text-anchor="end">-2</text>
<text x="236.05" y="532" font-size="19.3" fill="#000" text-anchor="end">5.0x10</text>
<text x="245.5" y="586" font-size="19.3" fill="#000" text-anchor="end">0.0</text>
<text x="245.3" y="635.8" font-size="10.4" fill="#000" text-anchor="end">-2</text>
<text x="236.05" y="647" font-size="19.3" fill="#000" text-anchor="end">-5.0x10</text>
<text x="245.3" y="693.3" font-size="10.4" fill="#000" text-anchor="end">-1</text>
<text x="236.05" y="704.5" font-size="19.3" fill="#000" text-anchor="end">-1.0x10</text>
<text x="245.3" y="750.8" font-size="10.4" fill="#000" text-anchor="end">-1</text>
<text x="236.05" y="762" font-size="19.3" fill="#000" text-anchor="end">-1.5x10</text>
<text x="30.17" y="608.2" font-size="18.7" fill="#000" text-anchor="middle">-4.5</text>
<text x="104.95" y="608.2" font-size="18.7" fill="#000" text-anchor="middle">-3.0</text>
<text x="179.72" y="608.2" font-size="18.7" fill="#000" text-anchor="middle">-1.5</text>
<text x="254.5" y="608.2" font-size="18.7" fill="#000" text-anchor="middle">0.0</text>
<text x="329.27" y="608.2" font-size="18.7" fill="#000" text-anchor="middle">1.5</text>
<text x="404.05" y="608.2" font-size="18.7" fill="#000" text-anchor="middle">3.0</text>
<text x="478.83" y="608.2" font-size="18.7" fill="#000" text-anchor="middle">4.5</text>
<text x="377.7" y="648.4" font-size="22.85" fill="#000" text-anchor="middle">Voltage (V)</text>
<text transform="translate(152 478) rotate(-90)" font-size="22.85" text-anchor="middle">Current (A)</text>
<line x1="3.8" y1="580.7" x2="503.9" y2="580.7" stroke="#000" stroke-width="2.6" stroke-linecap="butt"/>
<line x1="255" y1="394.8" x2="255" y2="764" stroke="#000" stroke-width="2.6" stroke-linecap="butt"/>
<line x1="29.17" y1="580.7" x2="29.17" y2="589.6" stroke="#000" stroke-width="2.25" stroke-linecap="butt"/>
<line x1="66.56" y1="580.7" x2="66.56" y2="586.2" stroke="#000" stroke-width="2.25" stroke-linecap="butt"/>
<line x1="103.95" y1="580.7" x2="103.95" y2="589.6" stroke="#000" stroke-width="2.25" stroke-linecap="butt"/>
<line x1="141.34" y1="580.7" x2="141.34" y2="586.2" stroke="#000" stroke-width="2.25" stroke-linecap="butt"/>
<line x1="178.72" y1="580.7" x2="178.72" y2="589.6" stroke="#000" stroke-width="2.25" stroke-linecap="butt"/>
<line x1="216.11" y1="580.7" x2="216.11" y2="586.2" stroke="#000" stroke-width="2.25" stroke-linecap="butt"/>
<line x1="290.89" y1="580.7" x2="290.89" y2="586.2" stroke="#000" stroke-width="2.25" stroke-linecap="butt"/>
<line x1="328.27" y1="580.7" x2="328.27" y2="589.6" stroke="#000" stroke-width="2.25" stroke-linecap="butt"/>
<line x1="365.66" y1="580.7" x2="365.66" y2="586.2" stroke="#000" stroke-width="2.25" stroke-linecap="butt"/>
<line x1="403.05" y1="580.7" x2="403.05" y2="589.6" stroke="#000" stroke-width="2.25" stroke-linecap="butt"/>
<line x1="440.44" y1="580.7" x2="440.44" y2="586.2" stroke="#000" stroke-width="2.25" stroke-linecap="butt"/>
<line x1="477.83" y1="580.7" x2="477.83" y2="589.6" stroke="#000" stroke-width="2.25" stroke-linecap="butt"/>
<line x1="245.9" y1="751.9" x2="255" y2="751.9" stroke="#000" stroke-width="2.25" stroke-linecap="butt"/>
<line x1="249.3" y1="723.15" x2="255" y2="723.15" stroke="#000" stroke-width="2.25" stroke-linecap="butt"/>
<line x1="245.9" y1="694.4" x2="255" y2="694.4" stroke="#000" stroke-width="2.25" stroke-linecap="butt"/>
<line x1="249.3" y1="665.65" x2="255" y2="665.65" stroke="#000" stroke-width="2.25" stroke-linecap="butt"/>
<line x1="245.9" y1="636.9" x2="255" y2="636.9" stroke="#000" stroke-width="2.25" stroke-linecap="butt"/>
<line x1="249.3" y1="608.15" x2="255" y2="608.15" stroke="#000" stroke-width="2.25" stroke-linecap="butt"/>
<line x1="249.3" y1="550.65" x2="255" y2="550.65" stroke="#000" stroke-width="2.25" stroke-linecap="butt"/>
<line x1="245.9" y1="521.9" x2="255" y2="521.9" stroke="#000" stroke-width="2.25" stroke-linecap="butt"/>
<line x1="249.3" y1="493.15" x2="255" y2="493.15" stroke="#000" stroke-width="2.25" stroke-linecap="butt"/>
<line x1="245.9" y1="464.4" x2="255" y2="464.4" stroke="#000" stroke-width="2.25" stroke-linecap="butt"/>
<line x1="249.3" y1="435.65" x2="255" y2="435.65" stroke="#000" stroke-width="2.25" stroke-linecap="butt"/>
<line x1="245.9" y1="406.9" x2="255" y2="406.9" stroke="#000" stroke-width="2.25" stroke-linecap="butt"/>
<clipPath id="clipC"><polygon points="5,394.8 503.6,395.2 503.9,764 3.8,764"/></clipPath>
<g clip-path="url(#clipC)">
<path d="M3 706.35 L6.62 703.82 L10.24 701.29 L13.86 698.77 L17.48 696.26 L21.1 693.76 L24.72 691.28 L28.34 688.8 L31.96 686.33 L35.57 683.88 L39.19 681.44 L42.81 679.01 L46.43 676.59 L50.05 674.19 L53.67 671.81 L57.29 669.44 L60.91 667.09 L64.53 664.75 L68.15 662.43 L71.77 660.13 L75.39 657.85 L79.01 655.58 L82.63 653.34 L86.25 651.12 L89.87 648.91 L93.49 646.73 L97.11 644.57 L100.72 642.44 L104.34 640.32 L107.96 638.24 L111.58 636.17 L115.2 634.13 L118.82 632.12 L122.44 630.13 L126.06 628.16 L129.68 626.23 L133.3 624.32 L136.92 622.44 L140.54 620.6 L144.16 618.78 L147.78 616.99 L151.4 615.23 L155.02 613.5 L158.64 611.8 L162.25 610.14 L165.87 608.51 L169.49 606.91 L173.11 605.35 L176.73 603.83 L180.35 602.33 L183.97 600.88 L187.59 599.46 L191.21 598.08 L194.83 596.73 L198.45 595.43 L202.07 594.16 L205.69 592.93 L209.31 591.74 L212.93 590.6 L216.55 589.49 L220.17 588.43 L223.78 587.41 L227.4 586.43 L231.02 585.49 L234.64 584.6 L238.26 583.76 L241.88 582.96 L245.5 582.2 L249.12 581.49 L252.74 580.83 L256.36 580.13 L259.98 579.35 L263.6 578.51 L267.22 577.6 L270.84 576.64 L274.46 575.63 L278.08 574.56 L281.7 573.44 L285.32 572.28 L288.93 571.07 L292.55 569.82 L296.17 568.54 L299.79 567.21 L303.41 565.85 L307.03 564.45 L310.65 563.03 L314.27 561.56 L317.89 560.07 L321.51 558.55 L325.13 557 L328.75 555.42 L332.37 553.81 L335.99 552.17 L339.61 550.5 L343.23 548.81 L346.85 547.09 L350.46 545.34 L354.08 543.56 L357.7 541.76 L361.32 539.93 L364.94 538.07 L368.56 536.18 L372.18 534.27 L375.8 532.32 L379.42 530.35 L383.04 528.35 L386.66 526.32 L390.28 524.26 L393.9 522.17 L397.52 520.05 L401.14 517.9 L404.76 515.72 L408.38 513.5 L411.99 511.26 L415.61 508.99 L419.23 506.69 L422.85 504.35 L426.47 501.99 L430.09 499.6 L433.71 497.18 L437.33 494.73 L440.95 492.25 L444.57 489.75 L448.19 487.22 L451.81 484.67 L455.43 482.09 L459.05 479.5 L462.67 476.88 L466.29 474.24 L469.91 471.59 L473.53 468.92 L477.14 466.24 L480.76 463.55 L484.38 460.86 L488 458.16 L491.62 455.46 L495.24 452.77 L498.86 450.08 L502.48 447.4 L506.1 444.74" fill="none" stroke="#0000ff" stroke-width="2.9" stroke-linejoin="round"/>
<path d="M6.94 639.2 L15 636.75 L23.06 634.3 L31.12 631.86 L39.18 629.42 L47.24 627.01 L55.3 624.61 L63.36 622.23 L71.42 619.89 L79.48 617.58 L87.54 615.3 L95.6 613.07 L103.66 610.88 L111.72 608.74 L119.78 606.65 L127.84 604.6 L135.9 602.62 L143.96 600.68 L152.02 598.81 L160.08 597 L168.14 595.24 L176.2 593.55 L184.26 591.93 L192.32 590.36 L200.38 588.87 L208.44 587.44 L216.5 586.07 L224.56 584.78 L232.62 583.55 L240.68 582.39 L248.74 581.31 L256.8 580.24 L264.86 578.92 L272.92 577.36 L280.98 575.6 L289.04 573.65 L297.1 571.54 L305.16 569.29 L313.22 566.91 L321.28 564.42 L329.34 561.83 L337.4 559.15 L345.46 556.39 L353.52 553.56 L361.58 550.65 L369.64 547.68 L377.7 544.65 L385.76 541.55 L393.82 538.4 L401.88 535.18 L409.94 531.91 L418 528.57 L426.06 525.18 L434.12 521.73 L442.18 518.22 L450.24 514.65 L458.3 511.03 L466.36 507.35 L474.42 503.62 L482.48 499.85 L490.54 496.04 L498.6 492.21" fill="none" stroke="#0000ff" stroke-width="2.9" stroke-linejoin="round"/>
<path d="M6.94 635.14 L10.39 641.9 L3.49 641.9 Z" fill="#fff" stroke="#0000ff" stroke-width="0.7"/>
<path d="M6.94 634.64 L10.89 642.2 L6.94 642.2 Z" fill="#0000ff"/>
<path d="M15 632.69 L18.45 639.45 L11.55 639.45 Z" fill="#fff" stroke="#0000ff" stroke-width="0.7"/>
<path d="M15 632.19 L18.95 639.75 L15 639.75 Z" fill="#0000ff"/>
<path d="M23.06 630.24 L26.51 637.01 L19.61 637.01 Z" fill="#fff" stroke="#0000ff" stroke-width="0.7"/>
<path d="M23.06 629.74 L27.01 637.31 L23.06 637.31 Z" fill="#0000ff"/>
<path d="M31.12 627.8 L34.57 634.56 L27.67 634.56 Z" fill="#fff" stroke="#0000ff" stroke-width="0.7"/>
<path d="M31.12 627.3 L35.07 634.86 L31.12 634.86 Z" fill="#0000ff"/>
<path d="M39.18 625.37 L42.63 632.13 L35.73 632.13 Z" fill="#fff" stroke="#0000ff" stroke-width="0.7"/>
<path d="M39.18 624.87 L43.13 632.43 L39.18 632.43 Z" fill="#0000ff"/>
<path d="M47.24 622.95 L50.69 629.71 L43.79 629.71 Z" fill="#fff" stroke="#0000ff" stroke-width="0.7"/>
<path d="M47.24 622.45 L51.19 630.01 L47.24 630.01 Z" fill="#0000ff"/>
<path d="M55.3 620.55 L58.75 627.31 L51.85 627.31 Z" fill="#fff" stroke="#0000ff" stroke-width="0.7"/>
<path d="M55.3 620.05 L59.25 627.61 L55.3 627.61 Z" fill="#0000ff"/>
<path d="M63.36 618.18 L66.81 624.94 L59.91 624.94 Z" fill="#fff" stroke="#0000ff" stroke-width="0.7"/>
<path d="M63.36 617.68 L67.31 625.24 L63.36 625.24 Z" fill="#0000ff"/>
<path d="M71.42 615.83 L74.87 622.59 L67.97 622.59 Z" fill="#fff" stroke="#0000ff" stroke-width="0.7"/>
<path d="M71.42 615.33 L75.37 622.89 L71.42 622.89 Z" fill="#0000ff"/>
<path d="M79.48 613.52 L82.93 620.28 L76.03 620.28 Z" fill="#fff" stroke="#0000ff" stroke-width="0.7"/>
<path d="M79.48 613.02 L83.43 620.58 L79.48 620.58 Z" fill="#0000ff"/>
<path d="M87.54 611.25 L90.99 618.01 L84.09 618.01 Z" fill="#fff" stroke="#0000ff" stroke-width="0.7"/>
<path d="M87.54 610.75 L91.49 618.31 L87.54 618.31 Z" fill="#0000ff"/>
<path d="M95.6 609.01 L99.05 615.78 L92.15 615.78 Z" fill="#fff" stroke="#0000ff" stroke-width="0.7"/>
<path d="M95.6 608.51 L99.55 616.08 L95.6 616.08 Z" fill="#0000ff"/>
<path d="M103.66 606.82 L107.11 613.59 L100.21 613.59 Z" fill="#fff" stroke="#0000ff" stroke-width="0.7"/>
<path d="M103.66 606.32 L107.61 613.89 L103.66 613.89 Z" fill="#0000ff"/>
<path d="M111.72 604.68 L115.17 611.44 L108.27 611.44 Z" fill="#fff" stroke="#0000ff" stroke-width="0.7"/>
<path d="M111.72 604.18 L115.67 611.74 L111.72 611.74 Z" fill="#0000ff"/>
<path d="M119.78 602.59 L123.23 609.35 L116.33 609.35 Z" fill="#fff" stroke="#0000ff" stroke-width="0.7"/>
<path d="M119.78 602.09 L123.73 609.65 L119.78 609.65 Z" fill="#0000ff"/>
<path d="M127.84 600.55 L131.29 607.31 L124.39 607.31 Z" fill="#fff" stroke="#0000ff" stroke-width="0.7"/>
<path d="M127.84 600.05 L131.79 607.61 L127.84 607.61 Z" fill="#0000ff"/>
<path d="M135.9 598.56 L139.35 605.32 L132.45 605.32 Z" fill="#fff" stroke="#0000ff" stroke-width="0.7"/>
<path d="M135.9 598.06 L139.85 605.62 L135.9 605.62 Z" fill="#0000ff"/>
<path d="M143.96 596.63 L147.41 603.39 L140.51 603.39 Z" fill="#fff" stroke="#0000ff" stroke-width="0.7"/>
<path d="M143.96 596.13 L147.91 603.69 L143.96 603.69 Z" fill="#0000ff"/>
<path d="M152.02 594.75 L155.47 601.52 L148.57 601.52 Z" fill="#fff" stroke="#0000ff" stroke-width="0.7"/>
<path d="M152.02 594.25 L155.97 601.82 L152.02 601.82 Z" fill="#0000ff"/>
<path d="M160.08 592.94 L163.53 599.7 L156.63 599.7 Z" fill="#fff" stroke="#0000ff" stroke-width="0.7"/>
<path d="M160.08 592.44 L164.03 600 L160.08 600 Z" fill="#0000ff"/>
<path d="M168.14 591.19 L171.59 597.95 L164.69 597.95 Z" fill="#fff" stroke="#0000ff" stroke-width="0.7"/>
<path d="M168.14 590.69 L172.09 598.25 L168.14 598.25 Z" fill="#0000ff"/>
<path d="M176.2 589.5 L179.65 596.26 L172.75 596.26 Z" fill="#fff" stroke="#0000ff" stroke-width="0.7"/>
<path d="M176.2 589 L180.15 596.56 L176.2 596.56 Z" fill="#0000ff"/>
<path d="M184.26 587.87 L187.71 594.63 L180.81 594.63 Z" fill="#fff" stroke="#0000ff" stroke-width="0.7"/>
<path d="M184.26 587.37 L188.21 594.93 L184.26 594.93 Z" fill="#0000ff"/>
<path d="M192.32 586.31 L195.77 593.07 L188.87 593.07 Z" fill="#fff" stroke="#0000ff" stroke-width="0.7"/>
<path d="M192.32 585.81 L196.27 593.37 L192.32 593.37 Z" fill="#0000ff"/>
<path d="M200.38 584.81 L203.83 591.57 L196.93 591.57 Z" fill="#fff" stroke="#0000ff" stroke-width="0.7"/>
<path d="M200.38 584.31 L204.33 591.87 L200.38 591.87 Z" fill="#0000ff"/>
<path d="M208.44 583.38 L211.89 590.14 L204.99 590.14 Z" fill="#fff" stroke="#0000ff" stroke-width="0.7"/>
<path d="M208.44 582.88 L212.39 590.44 L208.44 590.44 Z" fill="#0000ff"/>
<path d="M216.5 582.02 L219.95 588.78 L213.05 588.78 Z" fill="#fff" stroke="#0000ff" stroke-width="0.7"/>
<path d="M216.5 581.52 L220.45 589.08 L216.5 589.08 Z" fill="#0000ff"/>
<path d="M224.56 580.72 L228.01 587.48 L221.11 587.48 Z" fill="#fff" stroke="#0000ff" stroke-width="0.7"/>
<path d="M224.56 580.22 L228.51 587.78 L224.56 587.78 Z" fill="#0000ff"/>
<path d="M232.62 579.49 L236.07 586.26 L229.17 586.26 Z" fill="#fff" stroke="#0000ff" stroke-width="0.7"/>
<path d="M232.62 578.99 L236.57 586.56 L232.62 586.56 Z" fill="#0000ff"/>
<path d="M240.68 578.34 L244.13 585.1 L237.23 585.1 Z" fill="#fff" stroke="#0000ff" stroke-width="0.7"/>
<path d="M240.68 577.84 L244.63 585.4 L240.68 585.4 Z" fill="#0000ff"/>
<path d="M248.74 577.25 L252.19 584.01 L245.29 584.01 Z" fill="#fff" stroke="#0000ff" stroke-width="0.7"/>
<path d="M248.74 576.75 L252.69 584.31 L248.74 584.31 Z" fill="#0000ff"/>
<path d="M256.8 576.18 L260.25 582.94 L253.35 582.94 Z" fill="#fff" stroke="#0000ff" stroke-width="0.7"/>
<path d="M256.8 575.68 L260.75 583.24 L256.8 583.24 Z" fill="#0000ff"/>
<path d="M264.86 574.86 L268.31 581.62 L261.41 581.62 Z" fill="#fff" stroke="#0000ff" stroke-width="0.7"/>
<path d="M264.86 574.36 L268.81 581.92 L264.86 581.92 Z" fill="#0000ff"/>
<path d="M272.92 573.3 L276.37 580.07 L269.47 580.07 Z" fill="#fff" stroke="#0000ff" stroke-width="0.7"/>
<path d="M272.92 572.8 L276.87 580.37 L272.92 580.37 Z" fill="#0000ff"/>
<path d="M280.98 571.54 L284.43 578.3 L277.53 578.3 Z" fill="#fff" stroke="#0000ff" stroke-width="0.7"/>
<path d="M280.98 571.04 L284.93 578.6 L280.98 578.6 Z" fill="#0000ff"/>
<path d="M289.04 569.59 L292.49 576.35 L285.59 576.35 Z" fill="#fff" stroke="#0000ff" stroke-width="0.7"/>
<path d="M289.04 569.09 L292.99 576.65 L289.04 576.65 Z" fill="#0000ff"/>
<path d="M297.1 567.48 L300.55 574.24 L293.65 574.24 Z" fill="#fff" stroke="#0000ff" stroke-width="0.7"/>
<path d="M297.1 566.98 L301.05 574.54 L297.1 574.54 Z" fill="#0000ff"/>
<path d="M305.16 565.23 L308.61 571.99 L301.71 571.99 Z" fill="#fff" stroke="#0000ff" stroke-width="0.7"/>
<path d="M305.16 564.73 L309.11 572.29 L305.16 572.29 Z" fill="#0000ff"/>
<path d="M313.22 562.85 L316.67 569.61 L309.77 569.61 Z" fill="#fff" stroke="#0000ff" stroke-width="0.7"/>
<path d="M313.22 562.35 L317.17 569.91 L313.22 569.91 Z" fill="#0000ff"/>
<path d="M321.28 560.36 L324.73 567.12 L317.83 567.12 Z" fill="#fff" stroke="#0000ff" stroke-width="0.7"/>
<path d="M321.28 559.86 L325.23 567.42 L321.28 567.42 Z" fill="#0000ff"/>
<path d="M329.34 557.77 L332.79 564.53 L325.89 564.53 Z" fill="#fff" stroke="#0000ff" stroke-width="0.7"/>
<path d="M329.34 557.27 L333.29 564.83 L329.34 564.83 Z" fill="#0000ff"/>
<path d="M337.4 555.09 L340.85 561.86 L333.95 561.86 Z" fill="#fff" stroke="#0000ff" stroke-width="0.7"/>
<path d="M337.4 554.59 L341.35 562.16 L337.4 562.16 Z" fill="#0000ff"/>
<path d="M345.46 552.33 L348.91 559.09 L342.01 559.09 Z" fill="#fff" stroke="#0000ff" stroke-width="0.7"/>
<path d="M345.46 551.83 L349.41 559.39 L345.46 559.39 Z" fill="#0000ff"/>
<path d="M353.52 549.5 L356.97 556.26 L350.07 556.26 Z" fill="#fff" stroke="#0000ff" stroke-width="0.7"/>
<path d="M353.52 549 L357.47 556.56 L353.52 556.56 Z" fill="#0000ff"/>
<path d="M361.58 546.59 L365.03 553.36 L358.13 553.36 Z" fill="#fff" stroke="#0000ff" stroke-width="0.7"/>
<path d="M361.58 546.09 L365.53 553.66 L361.58 553.66 Z" fill="#0000ff"/>
<path d="M369.64 543.62 L373.09 550.38 L366.19 550.38 Z" fill="#fff" stroke="#0000ff" stroke-width="0.7"/>
<path d="M369.64 543.12 L373.59 550.68 L369.64 550.68 Z" fill="#0000ff"/>
<path d="M377.7 540.59 L381.15 547.35 L374.25 547.35 Z" fill="#fff" stroke="#0000ff" stroke-width="0.7"/>
<path d="M377.7 540.09 L381.65 547.65 L377.7 547.65 Z" fill="#0000ff"/>
<path d="M385.76 537.49 L389.21 544.26 L382.31 544.26 Z" fill="#fff" stroke="#0000ff" stroke-width="0.7"/>
<path d="M385.76 536.99 L389.71 544.56 L385.76 544.56 Z" fill="#0000ff"/>
<path d="M393.82 534.34 L397.27 541.1 L390.37 541.1 Z" fill="#fff" stroke="#0000ff" stroke-width="0.7"/>
<path d="M393.82 533.84 L397.77 541.4 L393.82 541.4 Z" fill="#0000ff"/>
<path d="M401.88 531.12 L405.33 537.89 L398.43 537.89 Z" fill="#fff" stroke="#0000ff" stroke-width="0.7"/>
<path d="M401.88 530.62 L405.83 538.19 L401.88 538.19 Z" fill="#0000ff"/>
<path d="M409.94 527.85 L413.39 534.61 L406.49 534.61 Z" fill="#fff" stroke="#0000ff" stroke-width="0.7"/>
<path d="M409.94 527.35 L413.89 534.91 L409.94 534.91 Z" fill="#0000ff"/>
<path d="M418 524.52 L421.45 531.28 L414.55 531.28 Z" fill="#fff" stroke="#0000ff" stroke-width="0.7"/>
<path d="M418 524.02 L421.95 531.58 L418 531.58 Z" fill="#0000ff"/>
<path d="M426.06 521.12 L429.51 527.89 L422.61 527.89 Z" fill="#fff" stroke="#0000ff" stroke-width="0.7"/>
<path d="M426.06 520.62 L430.01 528.19 L426.06 528.19 Z" fill="#0000ff"/>
<path d="M434.12 517.67 L437.57 524.43 L430.67 524.43 Z" fill="#fff" stroke="#0000ff" stroke-width="0.7"/>
<path d="M434.12 517.17 L438.07 524.73 L434.12 524.73 Z" fill="#0000ff"/>
<path d="M442.18 514.16 L445.63 520.92 L438.73 520.92 Z" fill="#fff" stroke="#0000ff" stroke-width="0.7"/>
<path d="M442.18 513.66 L446.13 521.22 L442.18 521.22 Z" fill="#0000ff"/>
<path d="M450.24 510.59 L453.69 517.35 L446.79 517.35 Z" fill="#fff" stroke="#0000ff" stroke-width="0.7"/>
<path d="M450.24 510.09 L454.19 517.65 L450.24 517.65 Z" fill="#0000ff"/>
<path d="M458.3 506.97 L461.75 513.73 L454.85 513.73 Z" fill="#fff" stroke="#0000ff" stroke-width="0.7"/>
<path d="M458.3 506.47 L462.25 514.03 L458.3 514.03 Z" fill="#0000ff"/>
<path d="M466.36 503.29 L469.81 510.05 L462.91 510.05 Z" fill="#fff" stroke="#0000ff" stroke-width="0.7"/>
<path d="M466.36 502.79 L470.31 510.35 L466.36 510.35 Z" fill="#0000ff"/>
<path d="M474.42 499.56 L477.87 506.33 L470.97 506.33 Z" fill="#fff" stroke="#0000ff" stroke-width="0.7"/>
<path d="M474.42 499.06 L478.37 506.63 L474.42 506.63 Z" fill="#0000ff"/>
<path d="M482.48 495.79 L485.93 502.56 L479.03 502.56 Z" fill="#fff" stroke="#0000ff" stroke-width="0.7"/>
<path d="M482.48 495.29 L486.43 502.86 L482.48 502.86 Z" fill="#0000ff"/>
<path d="M490.54 491.99 L493.99 498.75 L487.09 498.75 Z" fill="#fff" stroke="#0000ff" stroke-width="0.7"/>
<path d="M490.54 491.49 L494.49 499.05 L490.54 499.05 Z" fill="#0000ff"/>
<path d="M498.6 488.15 L502.05 494.91 L495.15 494.91 Z" fill="#fff" stroke="#0000ff" stroke-width="0.7"/>
<path d="M498.6 487.65 L502.55 495.21 L498.6 495.21 Z" fill="#0000ff"/>
</g>
<text x="389.3" y="503.8" font-size="19.3" fill="#000" text-anchor="start">(c)</text>
<text x="434.3" y="538.8" font-size="19.3" fill="#000" text-anchor="start">(c')</text>
<polygon points="5,394.8 503.6,395.2 503.9,764 3.8,764" fill="none" stroke="#000" stroke-width="2.65" stroke-linejoin="miter"/>
<text x="25.2" y="433" font-size="22.8" fill="#ff0000" text-anchor="start">(C)</text>
<rect x="268.2" y="703.6" width="234.2" height="58.4" fill="#fff" stroke="#8a8a8a" stroke-width="1"/>
<line x1="268.7" y1="762.6" x2="502.4" y2="762.6" stroke="#c8c8c8" stroke-width="1" stroke-linecap="butt"/>
<line x1="275.2" y1="715.5" x2="318" y2="715.5" stroke="#0000ff" stroke-width="2.6" stroke-linecap="butt"/>
<line x1="275.2" y1="745.1" x2="318" y2="745.1" stroke="#0000ff" stroke-width="2.6" stroke-linecap="butt"/>
<path d="M296.9 741.34 L300.1 747.61 L293.7 747.61 Z" fill="#fff" stroke="#0000ff" stroke-width="0.7"/>
<path d="M296.9 740.84 L300.6 747.91 L296.9 747.91 Z" fill="#0000ff"/>
<text x="321.2" y="721.9" font-size="14.4" fill="#000" text-anchor="start">(c) As-deposited 250 nm</text>
<text x="321.2" y="751.6" font-size="14.4" fill="#000" text-anchor="start">(c') N</text>
<text x="357.1" y="758.2" font-size="10.2" fill="#000" text-anchor="start">2</text>
<text x="364.5" y="740.4" font-size="13.5" fill="#000" text-anchor="start">+</text>
<text x="377.6" y="751.6" font-size="14.4" fill="#000" text-anchor="start">Implanted 250 nm</text>
</g>
<g id="panelD">
<text x="763.9" y="403.15" font-size="10.4" fill="#000" text-anchor="end">-1</text>
<text x="754.65" y="414.35" font-size="19.3" fill="#000" text-anchor="end">1.5x10</text>
<text x="763.9" y="460.7" font-size="10.4" fill="#000" text-anchor="end">-1</text>
<text x="754.65" y="471.9" font-size="19.3" fill="#000" text-anchor="end">1.0x10</text>
<text x="763.9" y="518.25" font-size="10.4" fill="#000" text-anchor="end">-2</text>
<text x="754.65" y="529.45" font-size="19.3" fill="#000" text-anchor="end">5.0x10</text>
<text x="764.1" y="583" font-size="19.3" fill="#000" text-anchor="end">0.0</text>
<text x="763.9" y="633.35" font-size="10.4" fill="#000" text-anchor="end">-2</text>
<text x="754.65" y="644.55" font-size="19.3" fill="#000" text-anchor="end">-5.0x10</text>
<text x="763.9" y="690.9" font-size="10.4" fill="#000" text-anchor="end">-1</text>
<text x="754.65" y="702.1" font-size="19.3" fill="#000" text-anchor="end">-1.0x10</text>
<text x="763.9" y="748.45" font-size="10.4" fill="#000" text-anchor="end">-1</text>
<text x="754.65" y="759.65" font-size="19.3" fill="#000" text-anchor="end">-1.5x10</text>
<text x="554.67" y="600" font-size="18.7" fill="#000" text-anchor="middle">-4.5</text>
<text x="629.45" y="600" font-size="18.7" fill="#000" text-anchor="middle">-3.0</text>
<text x="704.23" y="600" font-size="18.7" fill="#000" text-anchor="middle">-1.5</text>
<text x="779" y="600" font-size="18.7" fill="#000" text-anchor="middle">0.0</text>
<text x="853.77" y="600" font-size="18.7" fill="#000" text-anchor="middle">1.5</text>
<text x="928.55" y="600" font-size="18.7" fill="#000" text-anchor="middle">3.0</text>
<text x="1003.33" y="600" font-size="18.7" fill="#000" text-anchor="middle">4.5</text>
<text x="901.7" y="644.6" font-size="22.85" fill="#000" text-anchor="middle">Voltage (V)</text>
<text transform="translate(666.4 475) rotate(-90)" font-size="22.85" text-anchor="middle">Current (A)</text>
<line x1="521" y1="575" x2="1021.2" y2="575" stroke="#000" stroke-width="2.6" stroke-linecap="butt"/>
<line x1="775" y1="392.4" x2="775" y2="762.8" stroke="#000" stroke-width="2.6" stroke-linecap="butt"/>
<line x1="547.67" y1="575" x2="547.67" y2="583.9" stroke="#000" stroke-width="2.25" stroke-linecap="butt"/>
<line x1="585.06" y1="575" x2="585.06" y2="580.5" stroke="#000" stroke-width="2.25" stroke-linecap="butt"/>
<line x1="622.45" y1="575" x2="622.45" y2="583.9" stroke="#000" stroke-width="2.25" stroke-linecap="butt"/>
<line x1="659.84" y1="575" x2="659.84" y2="580.5" stroke="#000" stroke-width="2.25" stroke-linecap="butt"/>
<line x1="697.23" y1="575" x2="697.23" y2="583.9" stroke="#000" stroke-width="2.25" stroke-linecap="butt"/>
<line x1="734.61" y1="575" x2="734.61" y2="580.5" stroke="#000" stroke-width="2.25" stroke-linecap="butt"/>
<line x1="809.39" y1="575" x2="809.39" y2="580.5" stroke="#000" stroke-width="2.25" stroke-linecap="butt"/>
<line x1="846.77" y1="575" x2="846.77" y2="583.9" stroke="#000" stroke-width="2.25" stroke-linecap="butt"/>
<line x1="884.16" y1="575" x2="884.16" y2="580.5" stroke="#000" stroke-width="2.25" stroke-linecap="butt"/>
<line x1="921.55" y1="575" x2="921.55" y2="583.9" stroke="#000" stroke-width="2.25" stroke-linecap="butt"/>
<line x1="958.94" y1="575" x2="958.94" y2="580.5" stroke="#000" stroke-width="2.25" stroke-linecap="butt"/>
<line x1="996.33" y1="575" x2="996.33" y2="583.9" stroke="#000" stroke-width="2.25" stroke-linecap="butt"/>
<line x1="765.9" y1="749.05" x2="775" y2="749.05" stroke="#000" stroke-width="2.25" stroke-linecap="butt"/>
<line x1="769.3" y1="720.27" x2="775" y2="720.27" stroke="#000" stroke-width="2.25" stroke-linecap="butt"/>
<line x1="765.9" y1="691.5" x2="775" y2="691.5" stroke="#000" stroke-width="2.25" stroke-linecap="butt"/>
<line x1="769.3" y1="662.72" x2="775" y2="662.72" stroke="#000" stroke-width="2.25" stroke-linecap="butt"/>
<line x1="765.9" y1="633.95" x2="775" y2="633.95" stroke="#000" stroke-width="2.25" stroke-linecap="butt"/>
<line x1="769.3" y1="605.17" x2="775" y2="605.17" stroke="#000" stroke-width="2.25" stroke-linecap="butt"/>
<line x1="769.3" y1="547.62" x2="775" y2="547.62" stroke="#000" stroke-width="2.25" stroke-linecap="butt"/>
<line x1="765.9" y1="518.85" x2="775" y2="518.85" stroke="#000" stroke-width="2.25" stroke-linecap="butt"/>
<line x1="769.3" y1="490.07" x2="775" y2="490.07" stroke="#000" stroke-width="2.25" stroke-linecap="butt"/>
<line x1="765.9" y1="461.3" x2="775" y2="461.3" stroke="#000" stroke-width="2.25" stroke-linecap="butt"/>
<line x1="769.3" y1="432.52" x2="775" y2="432.52" stroke="#000" stroke-width="2.25" stroke-linecap="butt"/>
<line x1="765.9" y1="403.75" x2="775" y2="403.75" stroke="#000" stroke-width="2.25" stroke-linecap="butt"/>
<clipPath id="clipD"><polygon points="523.5,392.4 1021.2,392.4 1021.2,762.8 521,762.8"/></clipPath>
<g clip-path="url(#clipD)">
<path d="M521.5 755.21 L525.11 751.25 L528.73 747.35 L532.34 743.52 L535.95 739.74 L539.56 736.02 L543.18 732.36 L546.79 728.75 L550.4 725.2 L554.02 721.7 L557.63 718.25 L561.24 714.86 L564.86 711.51 L568.47 708.2 L572.08 704.95 L575.69 701.73 L579.31 698.57 L582.92 695.44 L586.53 692.35 L590.15 689.31 L593.76 686.31 L597.37 683.34 L600.98 680.41 L604.6 677.52 L608.21 674.66 L611.82 671.84 L615.44 669.05 L619.05 666.29 L622.66 663.57 L626.28 660.88 L629.89 658.22 L633.5 655.59 L637.11 652.99 L640.73 650.41 L644.34 647.87 L647.95 645.36 L651.57 642.87 L655.18 640.41 L658.79 637.98 L662.41 635.58 L666.02 633.2 L669.63 630.84 L673.24 628.52 L676.86 626.22 L680.47 623.94 L684.08 621.69 L687.7 619.47 L691.31 617.27 L694.92 615.1 L698.53 612.95 L702.15 610.83 L705.76 608.73 L709.37 606.66 L712.99 604.62 L716.6 602.6 L720.21 600.6 L723.83 598.64 L727.44 596.7 L731.05 594.79 L734.66 592.91 L738.28 591.05 L741.89 589.23 L745.5 587.43 L749.12 585.66 L752.73 583.92 L756.34 582.22 L759.95 580.54 L763.57 578.9 L767.18 577.29 L770.79 575.72 L774.41 574.23 L778.02 572.73 L781.63 571.18 L785.25 569.57 L788.86 567.91 L792.47 566.2 L796.08 564.44 L799.7 562.64 L803.31 560.79 L806.92 558.9 L810.54 556.96 L814.15 554.99 L817.76 552.98 L821.37 550.93 L824.99 548.84 L828.6 546.72 L832.21 544.56 L835.83 542.37 L839.44 540.15 L843.05 537.9 L846.67 535.62 L850.28 533.3 L853.89 530.97 L857.5 528.6 L861.12 526.21 L864.73 523.79 L868.34 521.34 L871.96 518.87 L875.57 516.38 L879.18 513.86 L882.79 511.32 L886.41 508.75 L890.02 506.16 L893.63 503.55 L897.25 500.92 L900.86 498.26 L904.47 495.58 L908.09 492.88 L911.7 490.15 L915.31 487.4 L918.92 484.63 L922.54 481.84 L926.15 479.02 L929.76 476.18 L933.38 473.32 L936.99 470.43 L940.6 467.51 L944.22 464.57 L947.83 461.6 L951.44 458.61 L955.05 455.58 L958.67 452.53 L962.28 449.45 L965.89 446.34 L969.51 443.2 L973.12 440.02 L976.73 436.82 L980.34 433.57 L983.96 430.29 L987.57 426.98 L991.18 423.62 L994.8 420.23 L998.41 416.8 L1002.02 413.32 L1005.64 409.8 L1009.25 406.23 L1012.86 402.62 L1016.47 398.95 L1020.09 395.24 L1023.7 391.48" fill="none" stroke="#ff00ff" stroke-width="2.9" stroke-linejoin="round"/>
<path d="M524.54 689.02 L532.6 684.37 L540.66 679.67 L548.72 674.93 L556.78 670.17 L564.84 665.41 L572.9 660.66 L580.96 655.94 L589.02 651.26 L597.08 646.63 L605.14 642.07 L613.2 637.58 L621.26 633.18 L629.32 628.88 L637.38 624.68 L645.44 620.6 L653.5 616.64 L661.56 612.81 L669.62 609.11 L677.68 605.56 L685.74 602.15 L693.8 598.88 L701.86 595.77 L709.92 592.82 L717.98 590.02 L726.04 587.37 L734.1 584.88 L742.16 582.54 L750.22 580.36 L758.28 578.33 L766.34 576.44 L774.4 574.44 L782.46 571.75 L790.52 568.85 L798.58 565.78 L806.64 562.54 L814.7 559.15 L822.76 555.62 L830.82 551.98 L838.88 548.23 L846.94 544.39 L855 540.47 L863.06 536.47 L871.12 532.41 L879.18 528.29 L887.24 524.12 L895.3 519.91 L903.36 515.66 L911.42 511.37 L919.48 507.04 L927.54 502.69 L935.6 498.29 L943.66 493.87 L951.72 489.41 L959.78 484.9 L967.84 480.36 L975.9 475.76 L983.96 471.11 L992.02 466.39 L1000.08 461.6 L1008.14 456.72 L1016.2 451.76" fill="none" stroke="#ff00ff" stroke-width="2.9" stroke-linejoin="round"/>
<path d="M524.54 693.07 L527.99 686.31 L521.09 686.31 Z" fill="#fff" stroke="#ff00ff" stroke-width="0.7"/>
<path d="M524.54 693.57 L528.49 686.01 L524.54 686.01 Z" fill="#ff00ff"/>
<path d="M532.6 688.43 L536.05 681.66 L529.15 681.66 Z" fill="#fff" stroke="#ff00ff" stroke-width="0.7"/>
<path d="M532.6 688.93 L536.55 681.36 L532.6 681.36 Z" fill="#ff00ff"/>
<path d="M540.66 683.73 L544.11 676.96 L537.21 676.96 Z" fill="#fff" stroke="#ff00ff" stroke-width="0.7"/>
<path d="M540.66 684.23 L544.61 676.66 L540.66 676.66 Z" fill="#ff00ff"/>
<path d="M548.72 678.99 L552.17 672.23 L545.27 672.23 Z" fill="#fff" stroke="#ff00ff" stroke-width="0.7"/>
<path d="M548.72 679.49 L552.67 671.93 L548.72 671.93 Z" fill="#ff00ff"/>
<path d="M556.78 674.23 L560.23 667.47 L553.33 667.47 Z" fill="#fff" stroke="#ff00ff" stroke-width="0.7"/>
<path d="M556.78 674.73 L560.73 667.17 L556.78 667.17 Z" fill="#ff00ff"/>
<path d="M564.84 669.47 L568.29 662.71 L561.39 662.71 Z" fill="#fff" stroke="#ff00ff" stroke-width="0.7"/>
<path d="M564.84 669.97 L568.79 662.41 L564.84 662.41 Z" fill="#ff00ff"/>
<path d="M572.9 664.72 L576.35 657.96 L569.45 657.96 Z" fill="#fff" stroke="#ff00ff" stroke-width="0.7"/>
<path d="M572.9 665.22 L576.85 657.66 L572.9 657.66 Z" fill="#ff00ff"/>
<path d="M580.96 660 L584.41 653.24 L577.51 653.24 Z" fill="#fff" stroke="#ff00ff" stroke-width="0.7"/>
<path d="M580.96 660.5 L584.91 652.94 L580.96 652.94 Z" fill="#ff00ff"/>
<path d="M589.02 655.32 L592.47 648.55 L585.57 648.55 Z" fill="#fff" stroke="#ff00ff" stroke-width="0.7"/>
<path d="M589.02 655.82 L592.97 648.25 L589.02 648.25 Z" fill="#ff00ff"/>
<path d="M597.08 650.69 L600.53 643.92 L593.63 643.92 Z" fill="#fff" stroke="#ff00ff" stroke-width="0.7"/>
<path d="M597.08 651.19 L601.03 643.62 L597.08 643.62 Z" fill="#ff00ff"/>
<path d="M605.14 646.12 L608.59 639.36 L601.69 639.36 Z" fill="#fff" stroke="#ff00ff" stroke-width="0.7"/>
<path d="M605.14 646.62 L609.09 639.06 L605.14 639.06 Z" fill="#ff00ff"/>
<path d="M613.2 641.64 L616.65 634.87 L609.75 634.87 Z" fill="#fff" stroke="#ff00ff" stroke-width="0.7"/>
<path d="M613.2 642.14 L617.15 634.57 L613.2 634.57 Z" fill="#ff00ff"/>
<path d="M621.26 637.24 L624.71 630.47 L617.81 630.47 Z" fill="#fff" stroke="#ff00ff" stroke-width="0.7"/>
<path d="M621.26 637.74 L625.21 630.17 L621.26 630.17 Z" fill="#ff00ff"/>
<path d="M629.32 632.93 L632.77 626.17 L625.87 626.17 Z" fill="#fff" stroke="#ff00ff" stroke-width="0.7"/>
<path d="M629.32 633.43 L633.27 625.87 L629.32 625.87 Z" fill="#ff00ff"/>
<path d="M637.38 628.74 L640.83 621.97 L633.93 621.97 Z" fill="#fff" stroke="#ff00ff" stroke-width="0.7"/>
<path d="M637.38 629.24 L641.33 621.67 L637.38 621.67 Z" fill="#ff00ff"/>
<path d="M645.44 624.65 L648.89 617.89 L641.99 617.89 Z" fill="#fff" stroke="#ff00ff" stroke-width="0.7"/>
<path d="M645.44 625.15 L649.39 617.59 L645.44 617.59 Z" fill="#ff00ff"/>
<path d="M653.5 620.7 L656.95 613.93 L650.05 613.93 Z" fill="#fff" stroke="#ff00ff" stroke-width="0.7"/>
<path d="M653.5 621.2 L657.45 613.63 L653.5 613.63 Z" fill="#ff00ff"/>
<path d="M661.56 616.86 L665.01 610.1 L658.11 610.1 Z" fill="#fff" stroke="#ff00ff" stroke-width="0.7"/>
<path d="M661.56 617.36 L665.51 609.8 L661.56 609.8 Z" fill="#ff00ff"/>
<path d="M669.62 613.17 L673.07 606.41 L666.17 606.41 Z" fill="#fff" stroke="#ff00ff" stroke-width="0.7"/>
<path d="M669.62 613.67 L673.57 606.11 L669.62 606.11 Z" fill="#ff00ff"/>
<path d="M677.68 609.61 L681.13 602.85 L674.23 602.85 Z" fill="#fff" stroke="#ff00ff" stroke-width="0.7"/>
<path d="M677.68 610.11 L681.63 602.55 L677.68 602.55 Z" fill="#ff00ff"/>
<path d="M685.74 606.2 L689.19 599.44 L682.29 599.44 Z" fill="#fff" stroke="#ff00ff" stroke-width="0.7"/>
<path d="M685.74 606.7 L689.69 599.14 L685.74 599.14 Z" fill="#ff00ff"/>
<path d="M693.8 602.94 L697.25 596.18 L690.35 596.18 Z" fill="#fff" stroke="#ff00ff" stroke-width="0.7"/>
<path d="M693.8 603.44 L697.75 595.88 L693.8 595.88 Z" fill="#ff00ff"/>
<path d="M701.86 599.83 L705.31 593.07 L698.41 593.07 Z" fill="#fff" stroke="#ff00ff" stroke-width="0.7"/>
<path d="M701.86 600.33 L705.81 592.77 L701.86 592.77 Z" fill="#ff00ff"/>
<path d="M709.92 596.87 L713.37 590.11 L706.47 590.11 Z" fill="#fff" stroke="#ff00ff" stroke-width="0.7"/>
<path d="M709.92 597.37 L713.87 589.81 L709.92 589.81 Z" fill="#ff00ff"/>
<path d="M717.98 594.07 L721.43 587.31 L714.53 587.31 Z" fill="#fff" stroke="#ff00ff" stroke-width="0.7"/>
<path d="M717.98 594.57 L721.93 587.01 L717.98 587.01 Z" fill="#ff00ff"/>
<path d="M726.04 591.43 L729.49 584.66 L722.59 584.66 Z" fill="#fff" stroke="#ff00ff" stroke-width="0.7"/>
<path d="M726.04 591.93 L729.99 584.36 L726.04 584.36 Z" fill="#ff00ff"/>
<path d="M734.1 588.94 L737.55 582.17 L730.65 582.17 Z" fill="#fff" stroke="#ff00ff" stroke-width="0.7"/>
<path d="M734.1 589.44 L738.05 581.87 L734.1 581.87 Z" fill="#ff00ff"/>
<path d="M742.16 586.6 L745.61 579.84 L738.71 579.84 Z" fill="#fff" stroke="#ff00ff" stroke-width="0.7"/>
<path d="M742.16 587.1 L746.11 579.54 L742.16 579.54 Z" fill="#ff00ff"/>
<path d="M750.22 584.42 L753.67 577.65 L746.77 577.65 Z" fill="#fff" stroke="#ff00ff" stroke-width="0.7"/>
<path d="M750.22 584.92 L754.17 577.35 L750.22 577.35 Z" fill="#ff00ff"/>
<path d="M758.28 582.38 L761.73 575.62 L754.83 575.62 Z" fill="#fff" stroke="#ff00ff" stroke-width="0.7"/>
<path d="M758.28 582.88 L762.23 575.32 L758.28 575.32 Z" fill="#ff00ff"/>
<path d="M766.34 580.5 L769.79 573.73 L762.89 573.73 Z" fill="#fff" stroke="#ff00ff" stroke-width="0.7"/>
<path d="M766.34 581 L770.29 573.43 L766.34 573.43 Z" fill="#ff00ff"/>
<path d="M774.4 578.5 L777.85 571.74 L770.95 571.74 Z" fill="#fff" stroke="#ff00ff" stroke-width="0.7"/>
<path d="M774.4 579 L778.35 571.44 L774.4 571.44 Z" fill="#ff00ff"/>
<path d="M782.46 575.8 L785.91 569.04 L779.01 569.04 Z" fill="#fff" stroke="#ff00ff" stroke-width="0.7"/>
<path d="M782.46 576.3 L786.41 568.74 L782.46 568.74 Z" fill="#ff00ff"/>
<path d="M790.52 572.91 L793.97 566.15 L787.07 566.15 Z" fill="#fff" stroke="#ff00ff" stroke-width="0.7"/>
<path d="M790.52 573.41 L794.47 565.85 L790.52 565.85 Z" fill="#ff00ff"/>
<path d="M798.58 569.83 L802.03 563.07 L795.13 563.07 Z" fill="#fff" stroke="#ff00ff" stroke-width="0.7"/>
<path d="M798.58 570.33 L802.53 562.77 L798.58 562.77 Z" fill="#ff00ff"/>
<path d="M806.64 566.59 L810.09 559.83 L803.19 559.83 Z" fill="#fff" stroke="#ff00ff" stroke-width="0.7"/>
<path d="M806.64 567.09 L810.59 559.53 L806.64 559.53 Z" fill="#ff00ff"/>
<path d="M814.7 563.2 L818.15 556.44 L811.25 556.44 Z" fill="#fff" stroke="#ff00ff" stroke-width="0.7"/>
<path d="M814.7 563.7 L818.65 556.14 L814.7 556.14 Z" fill="#ff00ff"/>
<path d="M822.76 559.68 L826.21 552.92 L819.31 552.92 Z" fill="#fff" stroke="#ff00ff" stroke-width="0.7"/>
<path d="M822.76 560.18 L826.71 552.62 L822.76 552.62 Z" fill="#ff00ff"/>
<path d="M830.82 556.04 L834.27 549.28 L827.37 549.28 Z" fill="#fff" stroke="#ff00ff" stroke-width="0.7"/>
<path d="M830.82 556.54 L834.77 548.98 L830.82 548.98 Z" fill="#ff00ff"/>
<path d="M838.88 552.29 L842.33 545.53 L835.43 545.53 Z" fill="#fff" stroke="#ff00ff" stroke-width="0.7"/>
<path d="M838.88 552.79 L842.83 545.23 L838.88 545.23 Z" fill="#ff00ff"/>
<path d="M846.94 548.45 L850.39 541.69 L843.49 541.69 Z" fill="#fff" stroke="#ff00ff" stroke-width="0.7"/>
<path d="M846.94 548.95 L850.89 541.39 L846.94 541.39 Z" fill="#ff00ff"/>
<path d="M855 544.52 L858.45 537.76 L851.55 537.76 Z" fill="#fff" stroke="#ff00ff" stroke-width="0.7"/>
<path d="M855 545.02 L858.95 537.46 L855 537.46 Z" fill="#ff00ff"/>
<path d="M863.06 540.53 L866.51 533.76 L859.61 533.76 Z" fill="#fff" stroke="#ff00ff" stroke-width="0.7"/>
<path d="M863.06 541.03 L867.01 533.46 L863.06 533.46 Z" fill="#ff00ff"/>
<path d="M871.12 536.46 L874.57 529.7 L867.67 529.7 Z" fill="#fff" stroke="#ff00ff" stroke-width="0.7"/>
<path d="M871.12 536.96 L875.07 529.4 L871.12 529.4 Z" fill="#ff00ff"/>
<path d="M879.18 532.35 L882.63 525.58 L875.73 525.58 Z" fill="#fff" stroke="#ff00ff" stroke-width="0.7"/>
<path d="M879.18 532.85 L883.13 525.28 L879.18 525.28 Z" fill="#ff00ff"/>
<path d="M887.24 528.18 L890.69 521.42 L883.79 521.42 Z" fill="#fff" stroke="#ff00ff" stroke-width="0.7"/>
<path d="M887.24 528.68 L891.19 521.12 L887.24 521.12 Z" fill="#ff00ff"/>
<path d="M895.3 523.97 L898.75 517.2 L891.85 517.2 Z" fill="#fff" stroke="#ff00ff" stroke-width="0.7"/>
<path d="M895.3 524.47 L899.25 516.9 L895.3 516.9 Z" fill="#ff00ff"/>
<path d="M903.36 519.71 L906.81 512.95 L899.91 512.95 Z" fill="#fff" stroke="#ff00ff" stroke-width="0.7"/>
<path d="M903.36 520.21 L907.31 512.65 L903.36 512.65 Z" fill="#ff00ff"/>
<path d="M911.42 515.42 L914.87 508.66 L907.97 508.66 Z" fill="#fff" stroke="#ff00ff" stroke-width="0.7"/>
<path d="M911.42 515.92 L915.37 508.36 L911.42 508.36 Z" fill="#ff00ff"/>
<path d="M919.48 511.1 L922.93 504.34 L916.03 504.34 Z" fill="#fff" stroke="#ff00ff" stroke-width="0.7"/>
<path d="M919.48 511.6 L923.43 504.04 L919.48 504.04 Z" fill="#ff00ff"/>
<path d="M927.54 506.74 L930.99 499.98 L924.09 499.98 Z" fill="#fff" stroke="#ff00ff" stroke-width="0.7"/>
<path d="M927.54 507.24 L931.49 499.68 L927.54 499.68 Z" fill="#ff00ff"/>
<path d="M935.6 502.35 L939.05 495.59 L932.15 495.59 Z" fill="#fff" stroke="#ff00ff" stroke-width="0.7"/>
<path d="M935.6 502.85 L939.55 495.29 L935.6 495.29 Z" fill="#ff00ff"/>
<path d="M943.66 497.93 L947.11 491.16 L940.21 491.16 Z" fill="#fff" stroke="#ff00ff" stroke-width="0.7"/>
<path d="M943.66 498.43 L947.61 490.86 L943.66 490.86 Z" fill="#ff00ff"/>
<path d="M951.72 493.46 L955.17 486.7 L948.27 486.7 Z" fill="#fff" stroke="#ff00ff" stroke-width="0.7"/>
<path d="M951.72 493.96 L955.67 486.4 L951.72 486.4 Z" fill="#ff00ff"/>
<path d="M959.78 488.96 L963.23 482.2 L956.33 482.2 Z" fill="#fff" stroke="#ff00ff" stroke-width="0.7"/>
<path d="M959.78 489.46 L963.73 481.9 L959.78 481.9 Z" fill="#ff00ff"/>
<path d="M967.84 484.41 L971.29 477.65 L964.39 477.65 Z" fill="#fff" stroke="#ff00ff" stroke-width="0.7"/>
<path d="M967.84 484.91 L971.79 477.35 L967.84 477.35 Z" fill="#ff00ff"/>
<path d="M975.9 479.82 L979.35 473.06 L972.45 473.06 Z" fill="#fff" stroke="#ff00ff" stroke-width="0.7"/>
<path d="M975.9 480.32 L979.85 472.76 L975.9 472.76 Z" fill="#ff00ff"/>
<path d="M983.96 475.16 L987.41 468.4 L980.51 468.4 Z" fill="#fff" stroke="#ff00ff" stroke-width="0.7"/>
<path d="M983.96 475.66 L987.91 468.1 L983.96 468.1 Z" fill="#ff00ff"/>
<path d="M992.02 470.45 L995.47 463.68 L988.57 463.68 Z" fill="#fff" stroke="#ff00ff" stroke-width="0.7"/>
<path d="M992.02 470.95 L995.97 463.38 L992.02 463.38 Z" fill="#ff00ff"/>
<path d="M1000.08 465.65 L1003.53 458.89 L996.63 458.89 Z" fill="#fff" stroke="#ff00ff" stroke-width="0.7"/>
<path d="M1000.08 466.15 L1004.03 458.59 L1000.08 458.59 Z" fill="#ff00ff"/>
<path d="M1008.14 460.78 L1011.59 454.02 L1004.69 454.02 Z" fill="#fff" stroke="#ff00ff" stroke-width="0.7"/>
<path d="M1008.14 461.28 L1012.09 453.72 L1008.14 453.72 Z" fill="#ff00ff"/>
<path d="M1016.2 455.81 L1019.65 449.05 L1012.75 449.05 Z" fill="#fff" stroke="#ff00ff" stroke-width="0.7"/>
<path d="M1016.2 456.31 L1020.15 448.75 L1016.2 448.75 Z" fill="#ff00ff"/>
</g>
<text x="906" y="470.5" font-size="19.3" fill="#000" text-anchor="start">(d)</text>
<text x="949.5" y="511" font-size="19.3" fill="#000" text-anchor="start">(d')</text>
<polygon points="523.5,392.4 1021.2,392.4 1021.2,762.8 521,762.8" fill="none" stroke="#000" stroke-width="2.65" stroke-linejoin="miter"/>
<text x="544.3" y="430.2" font-size="22.8" fill="#ff0000" text-anchor="start">(D)</text>
<rect x="785.2" y="703" width="234.6" height="58.2" fill="#fff" stroke="#8a8a8a" stroke-width="1"/>
<line x1="785.7" y1="761.8" x2="1019.8" y2="761.8" stroke="#c8c8c8" stroke-width="1" stroke-linecap="butt"/>
<line x1="792.2" y1="715.3" x2="835" y2="715.3" stroke="#ff00ff" stroke-width="2.6" stroke-linecap="butt"/>
<line x1="792.2" y1="745" x2="835" y2="745" stroke="#ff00ff" stroke-width="2.6" stroke-linecap="butt"/>
<path d="M813.9 748.76 L817.1 742.49 L810.7 742.49 Z" fill="#fff" stroke="#ff00ff" stroke-width="0.7"/>
<path d="M813.9 749.26 L817.6 742.19 L813.9 742.19 Z" fill="#ff00ff"/>
<text x="838.3" y="721.4" font-size="14.4" fill="#000" text-anchor="start">(d) As-deposited 300 nm</text>
<text x="838.3" y="751" font-size="14.4" fill="#000" text-anchor="start">(d') N</text>
<text x="874.2" y="757.6" font-size="10.2" fill="#000" text-anchor="start">2</text>
<text x="881.6" y="739.8" font-size="13.5" fill="#000" text-anchor="start">+</text>
<text x="894.7" y="751" font-size="14.4" fill="#000" text-anchor="start">Implanted 300 nm</text>
</g>
</g>
</svg></body></html>
